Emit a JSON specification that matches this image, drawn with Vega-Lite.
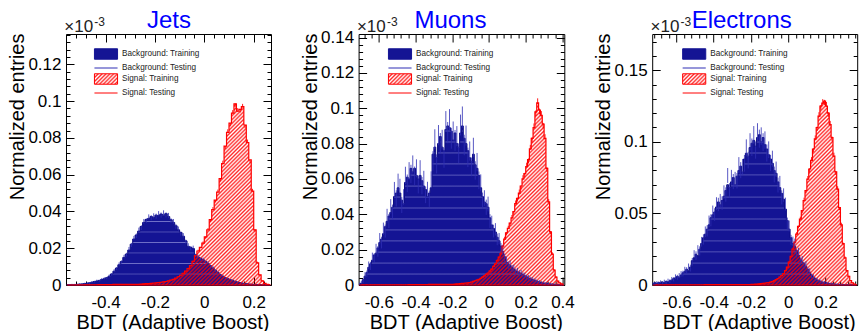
{
  "$schema": "https://vega.github.io/schema/vega-lite/v6.json",
  "background": "#ffffff",
  "padding": {"left": 7, "top": 8, "right": 0, "bottom": 0},
  "bounds": "flush",
  "spacing": 87.6,
  "resolve": {"scale": {"color": "independent"}, "legend": {"color": "independent"}},
  "config": {
    "font": "Liberation Sans",
    "view": {"stroke": "#000000", "strokeWidth": 1},
    "axis": {"grid": false, "domain": false, "minExtent": 0, "tickColor": "#000000", "tickWidth": 1, "labelColor": "#000000", "labelFont": "Liberation Sans", "labelFontSize": 17, "labelFlush": false, "labelOverlap": false, "titleFont": "Liberation Sans", "titleFontSize": 20, "titleFontWeight": "normal", "titleColor": "#000000", "zindex": 1},
    "legend": {"padding": 0}
  },
  "datasets": {
    "jets": [
      {"bdt":-0.555,"bkg":0.0002,"bkgT":0.0003,"bkgE":0.0002,"sig":0,"sigT":0.0001,"sigE":0.0001},
      {"bdt":-0.545,"bkg":0.0002,"bkgT":0.0002,"bkgE":0.0002,"sig":0,"sigT":0,"sigE":0.0001},
      {"bdt":-0.535,"bkg":0.0003,"bkgT":0.0002,"bkgE":0.0002,"sig":0.0001,"sigT":0,"sigE":0.0001},
      {"bdt":-0.525,"bkg":0.0002,"bkgT":0.0004,"bkgE":0.0002,"sig":0,"sigT":0.0001,"sigE":0.0001},
      {"bdt":-0.515,"bkg":0.0004,"bkgT":0.0003,"bkgE":0.0002,"sig":0.0001,"sigT":0,"sigE":0.0001},
      {"bdt":-0.505,"bkg":0.0005,"bkgT":0.0006,"bkgE":0.0003,"sig":0.0001,"sigT":0.0001,"sigE":0.0001},
      {"bdt":-0.495,"bkg":0.0006,"bkgT":0.0005,"bkgE":0.0003,"sig":0.0001,"sigT":0.0001,"sigE":0.0001},
      {"bdt":-0.485,"bkg":0.0008,"bkgT":0.0009,"bkgE":0.0003,"sig":0.0001,"sigT":0.0001,"sigE":0.0001},
      {"bdt":-0.475,"bkg":0.0010,"bkgT":0.0011,"bkgE":0.0004,"sig":0.0001,"sigT":0.0001,"sigE":0.0001},
      {"bdt":-0.465,"bkg":0.0012,"bkgT":0.0010,"bkgE":0.0004,"sig":0.0001,"sigT":0.0002,"sigE":0.0001},
      {"bdt":-0.455,"bkg":0.0015,"bkgT":0.0017,"bkgE":0.0004,"sig":0.0001,"sigT":0.0001,"sigE":0.0001},
      {"bdt":-0.445,"bkg":0.0019,"bkgT":0.0018,"bkgE":0.0005,"sig":0.0001,"sigT":0.0001,"sigE":0.0001},
      {"bdt":-0.435,"bkg":0.0022,"bkgT":0.0024,"bkgE":0.0005,"sig":0.0001,"sigT":0.0002,"sigE":0.0001},
      {"bdt":-0.425,"bkg":0.0025,"bkgT":0.0023,"bkgE":0.0005,"sig":0.0002,"sigT":0.0001,"sigE":0.0001},
      {"bdt":-0.415,"bkg":0.0030,"bkgT":0.0032,"bkgE":0.0006,"sig":0.0002,"sigT":0.0002,"sigE":0.0001},
      {"bdt":-0.405,"bkg":0.0034,"bkgT":0.0036,"bkgE":0.0006,"sig":0.0002,"sigT":0.0002,"sigE":0.0001},
      {"bdt":-0.395,"bkg":0.0040,"bkgT":0.0038,"bkgE":0.0006,"sig":0.0002,"sigT":0.0003,"sigE":0.0001},
      {"bdt":-0.385,"bkg":0.0048,"bkgT":0.0050,"bkgE":0.0007,"sig":0.0002,"sigT":0.0002,"sigE":0.0001},
      {"bdt":-0.375,"bkg":0.0060,"bkgT":0.0058,"bkgE":0.0007,"sig":0.0002,"sigT":0.0002,"sigE":0.0001},
      {"bdt":-0.365,"bkg":0.0075,"bkgT":0.0078,"bkgE":0.0008,"sig":0.0003,"sigT":0.0003,"sigE":0.0001},
      {"bdt":-0.355,"bkg":0.0092,"bkgT":0.0090,"bkgE":0.0008,"sig":0.0003,"sigT":0.0003,"sigE":0.0001},
      {"bdt":-0.345,"bkg":0.0110,"bkgT":0.0114,"bkgE":0.0009,"sig":0.0003,"sigT":0.0004,"sigE":0.0001},
      {"bdt":-0.335,"bkg":0.0128,"bkgT":0.0125,"bkgE":0.0009,"sig":0.0003,"sigT":0.0003,"sigE":0.0001},
      {"bdt":-0.325,"bkg":0.0150,"bkgT":0.0154,"bkgE":0.0010,"sig":0.0003,"sigT":0.0003,"sigE":0.0001},
      {"bdt":-0.315,"bkg":0.0168,"bkgT":0.0165,"bkgE":0.0010,"sig":0.0003,"sigT":0.0004,"sigE":0.0001},
      {"bdt":-0.305,"bkg":0.0190,"bkgT":0.0196,"bkgE":0.0011,"sig":0.0003,"sigT":0.0003,"sigE":0.0001},
      {"bdt":-0.295,"bkg":0.0222,"bkgT":0.0218,"bkgE":0.0011,"sig":0.0003,"sigT":0.0003,"sigE":0.0001},
      {"bdt":-0.285,"bkg":0.0250,"bkgT":0.0255,"bkgE":0.0012,"sig":0.0003,"sigT":0.0004,"sigE":0.0001},
      {"bdt":-0.275,"bkg":0.0272,"bkgT":0.0268,"bkgE":0.0012,"sig":0.0004,"sigT":0.0004,"sigE":0.0001},
      {"bdt":-0.265,"bkg":0.0293,"bkgT":0.0300,"bkgE":0.0012,"sig":0.0004,"sigT":0.0005,"sigE":0.0001},
      {"bdt":-0.255,"bkg":0.0318,"bkgT":0.0312,"bkgE":0.0013,"sig":0.0005,"sigT":0.0005,"sigE":0.0001},
      {"bdt":-0.245,"bkg":0.0340,"bkgT":0.0346,"bkgE":0.0013,"sig":0.0006,"sigT":0.0006,"sigE":0.0001},
      {"bdt":-0.235,"bkg":0.0356,"bkgT":0.0350,"bkgE":0.0013,"sig":0.0007,"sigT":0.0007,"sigE":0.0001},
      {"bdt":-0.225,"bkg":0.0362,"bkgT":0.0371,"bkgE":0.0013,"sig":0.0008,"sigT":0.0008,"sigE":0.0001},
      {"bdt":-0.215,"bkg":0.0372,"bkgT":0.0366,"bkgE":0.0014,"sig":0.0009,"sigT":0.0010,"sigE":0.0001},
      {"bdt":-0.205,"bkg":0.0368,"bkgT":0.0376,"bkgE":0.0014,"sig":0.0010,"sigT":0.0010,"sigE":0.0001},
      {"bdt":-0.195,"bkg":0.0380,"bkgT":0.0374,"bkgE":0.0014,"sig":0.0012,"sigT":0.0012,"sigE":0.0002},
      {"bdt":-0.185,"bkg":0.0378,"bkgT":0.0388,"bkgE":0.0014,"sig":0.0013,"sigT":0.0014,"sigE":0.0002},
      {"bdt":-0.175,"bkg":0.0386,"bkgT":0.0380,"bkgE":0.0014,"sig":0.0015,"sigT":0.0015,"sigE":0.0002},
      {"bdt":-0.165,"bkg":0.0380,"bkgT":0.0392,"bkgE":0.0014,"sig":0.0017,"sigT":0.0018,"sigE":0.0002},
      {"bdt":-0.155,"bkg":0.0388,"bkgT":0.0381,"bkgE":0.0014,"sig":0.0019,"sigT":0.0019,"sigE":0.0002},
      {"bdt":-0.145,"bkg":0.0372,"bkgT":0.0378,"bkgE":0.0014,"sig":0.0022,"sigT":0.0023,"sigE":0.0002},
      {"bdt":-0.135,"bkg":0.0355,"bkgT":0.0350,"bkgE":0.0013,"sig":0.0026,"sigT":0.0026,"sigE":0.0002},
      {"bdt":-0.125,"bkg":0.0340,"bkgT":0.0346,"bkgE":0.0013,"sig":0.0031,"sigT":0.0032,"sigE":0.0002},
      {"bdt":-0.115,"bkg":0.0322,"bkgT":0.0318,"bkgE":0.0013,"sig":0.0037,"sigT":0.0036,"sigE":0.0002},
      {"bdt":-0.105,"bkg":0.0300,"bkgT":0.0306,"bkgE":0.0012,"sig":0.0045,"sigT":0.0046,"sigE":0.0003},
      {"bdt":-0.095,"bkg":0.0285,"bkgT":0.0280,"bkgE":0.0012,"sig":0.0053,"sigT":0.0052,"sigE":0.0003},
      {"bdt":-0.085,"bkg":0.0265,"bkgT":0.0270,"bkgE":0.0012,"sig":0.0063,"sigT":0.0064,"sigE":0.0003},
      {"bdt":-0.075,"bkg":0.0240,"bkgT":0.0236,"bkgE":0.0011,"sig":0.0075,"sigT":0.0074,"sigE":0.0003},
      {"bdt":-0.065,"bkg":0.0210,"bkgT":0.0216,"bkgE":0.0011,"sig":0.0089,"sigT":0.0091,"sigE":0.0003},
      {"bdt":-0.055,"bkg":0.0205,"bkgT":0.0200,"bkgE":0.0011,"sig":0.0105,"sigT":0.0103,"sigE":0.0003},
      {"bdt":-0.045,"bkg":0.0198,"bkgT":0.0204,"bkgE":0.0010,"sig":0.0128,"sigT":0.0130,"sigE":0.0004},
      {"bdt":-0.035,"bkg":0.0165,"bkgT":0.0160,"bkgE":0.0010,"sig":0.0160,"sigT":0.0158,"sigE":0.0004},
      {"bdt":-0.025,"bkg":0.0152,"bkgT":0.0156,"bkgE":0.0009,"sig":0.0185,"sigT":0.0188,"sigE":0.0004},
      {"bdt":-0.015,"bkg":0.0145,"bkgT":0.0141,"bkgE":0.0009,"sig":0.0205,"sigT":0.0203,"sigE":0.0004},
      {"bdt":-0.005,"bkg":0.0138,"bkgT":0.0140,"bkgE":0.0009,"sig":0.0228,"sigT":0.0232,"sigE":0.0005},
      {"bdt":0.005,"bkg":0.0128,"bkgT":0.0125,"bkgE":0.0008,"sig":0.0262,"sigT":0.0258,"sigE":0.0005},
      {"bdt":0.015,"bkg":0.0118,"bkgT":0.0121,"bkgE":0.0008,"sig":0.0300,"sigT":0.0305,"sigE":0.0005},
      {"bdt":0.025,"bkg":0.0105,"bkgT":0.0102,"bkgE":0.0008,"sig":0.0355,"sigT":0.0350,"sigE":0.0006},
      {"bdt":0.035,"bkg":0.0093,"bkgT":0.0096,"bkgE":0.0007,"sig":0.0410,"sigT":0.0418,"sigE":0.0006},
      {"bdt":0.045,"bkg":0.0080,"bkgT":0.0078,"bkgE":0.0007,"sig":0.0462,"sigT":0.0455,"sigE":0.0006},
      {"bdt":0.055,"bkg":0.0068,"bkgT":0.0070,"bkgE":0.0006,"sig":0.0505,"sigT":0.0512,"sigE":0.0007},
      {"bdt":0.065,"bkg":0.0056,"bkgT":0.0054,"bkgE":0.0006,"sig":0.0578,"sigT":0.0570,"sigE":0.0007},
      {"bdt":0.075,"bkg":0.0048,"bkgT":0.0050,"bkgE":0.0005,"sig":0.0660,"sigT":0.0668,"sigE":0.0008},
      {"bdt":0.085,"bkg":0.0040,"bkgT":0.0038,"bkgE":0.0005,"sig":0.0755,"sigT":0.0748,"sigE":0.0008},
      {"bdt":0.095,"bkg":0.0034,"bkgT":0.0035,"bkgE":0.0005,"sig":0.0830,"sigT":0.0838,"sigE":0.0009},
      {"bdt":0.105,"bkg":0.0029,"bkgT":0.0028,"bkgE":0.0004,"sig":0.0880,"sigT":0.0872,"sigE":0.0009},
      {"bdt":0.115,"bkg":0.0025,"bkgT":0.0026,"bkgE":0.0004,"sig":0.0935,"sigT":0.0942,"sigE":0.0009},
      {"bdt":0.125,"bkg":0.0020,"bkgT":0.0019,"bkgE":0.0004,"sig":0.0985,"sigT":0.0978,"sigE":0.0010},
      {"bdt":0.135,"bkg":0.0016,"bkgT":0.0017,"bkgE":0.0003,"sig":0.0945,"sigT":0.0952,"sigE":0.0010},
      {"bdt":0.145,"bkg":0.0013,"bkgT":0.0012,"bkgE":0.0003,"sig":0.0955,"sigT":0.0948,"sigE":0.0010},
      {"bdt":0.155,"bkg":0.0010,"bkgT":0.0011,"bkgE":0.0003,"sig":0.0970,"sigT":0.0975,"sigE":0.0010},
      {"bdt":0.165,"bkg":0.0008,"bkgT":0.0007,"bkgE":0.0003,"sig":0.0870,"sigT":0.0862,"sigE":0.0009},
      {"bdt":0.175,"bkg":0.0007,"bkgT":0.0008,"bkgE":0.0002,"sig":0.0775,"sigT":0.0782,"sigE":0.0009},
      {"bdt":0.185,"bkg":0.0005,"bkgT":0.0005,"bkgE":0.0002,"sig":0.0680,"sigT":0.0672,"sigE":0.0008},
      {"bdt":0.195,"bkg":0.0004,"bkgT":0.0004,"bkgE":0.0002,"sig":0.0510,"sigT":0.0516,"sigE":0.0007},
      {"bdt":0.205,"bkg":0.0003,"bkgT":0.0003,"bkgE":0.0002,"sig":0.0300,"sigT":0.0296,"sigE":0.0006},
      {"bdt":0.215,"bkg":0.0003,"bkgT":0.0002,"bkgE":0.0002,"sig":0.0120,"sigT":0.0123,"sigE":0.0004},
      {"bdt":0.225,"bkg":0.0002,"bkgT":0.0002,"bkgE":0.0001,"sig":0.0055,"sigT":0.0054,"sigE":0.0003},
      {"bdt":0.235,"bkg":0.0002,"bkgT":0.0001,"bkgE":0.0001,"sig":0.0022,"sigT":0.0023,"sigE":0.0002},
      {"bdt":0.245,"bkg":0.0001,"bkgT":0.0001,"bkgE":0.0001,"sig":0.0009,"sigT":0.0009,"sigE":0.0001},
      {"bdt":0.255,"bkg":0.0001,"bkgT":0.0001,"bkgE":0.0001,"sig":0.0004,"sigT":0.0004,"sigE":0.0001},
      {"bdt":0.265,"bkg":0.0001,"bkgT":0,"bkgE":0.0001,"sig":0.0002,"sigT":0.0002,"sigE":0.0001}
    ],
    "muons": [
      {"bdt":-0.705,"bkg":0.0005,"bkgT":0.0008,"bkgE":0.0005,"sig":0,"sigT":0,"sigE":0.0001},
      {"bdt":-0.695,"bkg":0.001,"bkgT":0.0015,"bkgE":0.0008,"sig":0,"sigT":0.0001,"sigE":0.0001},
      {"bdt":-0.685,"bkg":0.003,"bkgT":0.0024,"bkgE":0.0012,"sig":0.0001,"sigT":0,"sigE":0.0001},
      {"bdt":-0.675,"bkg":0.005,"bkgT":0.0058,"bkgE":0.0015,"sig":0,"sigT":0.0001,"sigE":0.0001},
      {"bdt":-0.665,"bkg":0.007,"bkgT":0.0064,"bkgE":0.0018,"sig":0.0001,"sigT":0.0001,"sigE":0.0001},
      {"bdt":-0.655,"bkg":0.010,"bkgT":0.0112,"bkgE":0.0021,"sig":0,"sigT":0,"sigE":0.0001},
      {"bdt":-0.645,"bkg":0.012,"bkgT":0.0108,"bkgE":0.0023,"sig":0.0001,"sigT":0.0001,"sigE":0.0001},
      {"bdt":-0.635,"bkg":0.014,"bkgT":0.0158,"bkgE":0.0025,"sig":0.0001,"sigT":0.0001,"sigE":0.0001},
      {"bdt":-0.625,"bkg":0.017,"bkgT":0.0152,"bkgE":0.0027,"sig":0.0001,"sigT":0.0002,"sigE":0.0001},
      {"bdt":-0.615,"bkg":0.018,"bkgT":0.0205,"bkgE":0.0028,"sig":0.0001,"sigT":0.0001,"sigE":0.0001},
      {"bdt":-0.605,"bkg":0.021,"bkgT":0.0190,"bkgE":0.0030,"sig":0.0001,"sigT":0.0001,"sigE":0.0001},
      {"bdt":-0.595,"bkg":0.024,"bkgT":0.0262,"bkgE":0.0032,"sig":0.0001,"sigT":0.0001,"sigE":0.0001},
      {"bdt":-0.585,"bkg":0.026,"bkgT":0.0240,"bkgE":0.0033,"sig":0.0001,"sigT":0.0002,"sigE":0.0001},
      {"bdt":-0.575,"bkg":0.029,"bkgT":0.0318,"bkgE":0.0035,"sig":0.0001,"sigT":0.0001,"sigE":0.0001},
      {"bdt":-0.565,"bkg":0.033,"bkgT":0.0305,"bkgE":0.0037,"sig":0.0001,"sigT":0.0001,"sigE":0.0001},
      {"bdt":-0.555,"bkg":0.036,"bkgT":0.0392,"bkgE":0.0039,"sig":0.0001,"sigT":0.0001,"sigE":0.0001},
      {"bdt":-0.545,"bkg":0.039,"bkgT":0.0362,"bkgE":0.0040,"sig":0.0001,"sigT":0.0002,"sigE":0.0001},
      {"bdt":-0.535,"bkg":0.041,"bkgT":0.0445,"bkgE":0.0041,"sig":0.0001,"sigT":0.0001,"sigE":0.0001},
      {"bdt":-0.525,"bkg":0.044,"bkgT":0.0412,"bkgE":0.0043,"sig":0.0001,"sigT":0.0001,"sigE":0.0001},
      {"bdt":-0.515,"bkg":0.050,"bkgT":0.0538,"bkgE":0.0045,"sig":0.0001,"sigT":0.0001,"sigE":0.0001},
      {"bdt":-0.505,"bkg":0.052,"bkgT":0.0490,"bkgE":0.0046,"sig":0.0001,"sigT":0.0002,"sigE":0.0001},
      {"bdt":-0.495,"bkg":0.055,"bkgT":0.0582,"bkgE":0.0048,"sig":0.0001,"sigT":0.0001,"sigE":0.0001},
      {"bdt":-0.485,"bkg":0.052,"bkgT":0.0555,"bkgE":0.0046,"sig":0.0001,"sigT":0.0001,"sigE":0.0001},
      {"bdt":-0.475,"bkg":0.048,"bkgT":0.0452,"bkgE":0.0045,"sig":0.0001,"sigT":0.0001,"sigE":0.0001},
      {"bdt":-0.465,"bkg":0.046,"bkgT":0.0498,"bkgE":0.0044,"sig":0.0001,"sigT":0.0002,"sigE":0.0001},
      {"bdt":-0.455,"bkg":0.058,"bkgT":0.0620,"bkgE":0.0049,"sig":0.0001,"sigT":0.0001,"sigE":0.0001},
      {"bdt":-0.445,"bkg":0.061,"bkgT":0.0575,"bkgE":0.0050,"sig":0.0001,"sigT":0.0001,"sigE":0.0001},
      {"bdt":-0.435,"bkg":0.060,"bkgT":0.0645,"bkgE":0.0050,"sig":0.0002,"sigT":0.0002,"sigE":0.0001},
      {"bdt":-0.425,"bkg":0.066,"bkgT":0.0628,"bkgE":0.0052,"sig":0.0002,"sigT":0.0001,"sigE":0.0001},
      {"bdt":-0.415,"bkg":0.064,"bkgT":0.0682,"bkgE":0.0051,"sig":0.0002,"sigT":0.0002,"sigE":0.0001},
      {"bdt":-0.405,"bkg":0.066,"bkgT":0.0618,"bkgE":0.0052,"sig":0.0002,"sigT":0.0002,"sigE":0.0001},
      {"bdt":-0.395,"bkg":0.062,"bkgT":0.0660,"bkgE":0.0051,"sig":0.0002,"sigT":0.0002,"sigE":0.0001},
      {"bdt":-0.385,"bkg":0.060,"bkgT":0.0568,"bkgE":0.0050,"sig":0.0002,"sigT":0.0003,"sigE":0.0001},
      {"bdt":-0.375,"bkg":0.062,"bkgT":0.0655,"bkgE":0.0051,"sig":0.0002,"sigT":0.0002,"sigE":0.0001},
      {"bdt":-0.365,"bkg":0.059,"bkgT":0.0562,"bkgE":0.0049,"sig":0.0002,"sigT":0.0002,"sigE":0.0001},
      {"bdt":-0.355,"bkg":0.056,"bkgT":0.0598,"bkgE":0.0048,"sig":0.0002,"sigT":0.0003,"sigE":0.0001},
      {"bdt":-0.345,"bkg":0.054,"bkgT":0.0510,"bkgE":0.0047,"sig":0.0002,"sigT":0.0002,"sigE":0.0001},
      {"bdt":-0.335,"bkg":0.050,"bkgT":0.0538,"bkgE":0.0046,"sig":0.0002,"sigT":0.0002,"sigE":0.0001},
      {"bdt":-0.325,"bkg":0.052,"bkgT":0.0488,"bkgE":0.0046,"sig":0.0003,"sigT":0.0003,"sigE":0.0001},
      {"bdt":-0.315,"bkg":0.055,"bkgT":0.0595,"bkgE":0.0048,"sig":0.0003,"sigT":0.0002,"sigE":0.0001},
      {"bdt":-0.305,"bkg":0.074,"bkgT":0.0702,"bkgE":0.0055,"sig":0.0003,"sigT":0.0003,"sigE":0.0001},
      {"bdt":-0.295,"bkg":0.078,"bkgT":0.0825,"bkgE":0.0056,"sig":0.0003,"sigT":0.0003,"sigE":0.0001},
      {"bdt":-0.285,"bkg":0.072,"bkgT":0.0685,"bkgE":0.0054,"sig":0.0003,"sigT":0.0004,"sigE":0.0001},
      {"bdt":-0.275,"bkg":0.080,"bkgT":0.0848,"bkgE":0.0057,"sig":0.0003,"sigT":0.0003,"sigE":0.0001},
      {"bdt":-0.265,"bkg":0.084,"bkgT":0.0802,"bkgE":0.0058,"sig":0.0003,"sigT":0.0003,"sigE":0.0001},
      {"bdt":-0.255,"bkg":0.078,"bkgT":0.0822,"bkgE":0.0056,"sig":0.0003,"sigT":0.0004,"sigE":0.0001},
      {"bdt":-0.245,"bkg":0.076,"bkgT":0.0718,"bkgE":0.0055,"sig":0.0003,"sigT":0.0003,"sigE":0.0001},
      {"bdt":-0.235,"bkg":0.088,"bkgT":0.0925,"bkgE":0.0059,"sig":0.0003,"sigT":0.0003,"sigE":0.0001},
      {"bdt":-0.225,"bkg":0.090,"bkgT":0.0862,"bkgE":0.0060,"sig":0.0003,"sigT":0.0004,"sigE":0.0001},
      {"bdt":-0.215,"bkg":0.089,"bkgT":0.0935,"bkgE":0.0060,"sig":0.0003,"sigT":0.0003,"sigE":0.0001},
      {"bdt":-0.205,"bkg":0.087,"bkgT":0.0830,"bkgE":0.0059,"sig":0.0003,"sigT":0.0003,"sigE":0.0001},
      {"bdt":-0.195,"bkg":0.082,"bkgT":0.0868,"bkgE":0.0057,"sig":0.0004,"sigT":0.0004,"sigE":0.0001},
      {"bdt":-0.185,"bkg":0.086,"bkgT":0.0818,"bkgE":0.0059,"sig":0.0005,"sigT":0.0005,"sigE":0.0001},
      {"bdt":-0.175,"bkg":0.080,"bkgT":0.0842,"bkgE":0.0057,"sig":0.0006,"sigT":0.0006,"sigE":0.0001},
      {"bdt":-0.165,"bkg":0.078,"bkgT":0.0745,"bkgE":0.0056,"sig":0.0007,"sigT":0.0008,"sigE":0.0001},
      {"bdt":-0.155,"bkg":0.086,"bkgT":0.0905,"bkgE":0.0059,"sig":0.0008,"sigT":0.0008,"sigE":0.0002},
      {"bdt":-0.145,"bkg":0.090,"bkgT":0.0950,"bkgE":0.0060,"sig":0.0009,"sigT":0.0009,"sigE":0.0002},
      {"bdt":-0.135,"bkg":0.083,"bkgT":0.0792,"bkgE":0.0058,"sig":0.0010,"sigT":0.0011,"sigE":0.0002},
      {"bdt":-0.125,"bkg":0.080,"bkgT":0.0845,"bkgE":0.0057,"sig":0.0011,"sigT":0.0011,"sigE":0.0002},
      {"bdt":-0.115,"bkg":0.076,"bkgT":0.0722,"bkgE":0.0055,"sig":0.0012,"sigT":0.0013,"sigE":0.0002},
      {"bdt":-0.105,"bkg":0.072,"bkgT":0.0758,"bkgE":0.0054,"sig":0.0014,"sigT":0.0014,"sigE":0.0002},
      {"bdt":-0.095,"bkg":0.070,"bkgT":0.0668,"bkgE":0.0053,"sig":0.0017,"sigT":0.0016,"sigE":0.0002},
      {"bdt":-0.085,"bkg":0.074,"bkgT":0.0778,"bkgE":0.0055,"sig":0.0020,"sigT":0.0021,"sigE":0.0002},
      {"bdt":-0.075,"bkg":0.068,"bkgT":0.0648,"bkgE":0.0052,"sig":0.0024,"sigT":0.0024,"sigE":0.0003},
      {"bdt":-0.065,"bkg":0.066,"bkgT":0.0695,"bkgE":0.0052,"sig":0.0028,"sigT":0.0029,"sigE":0.0003},
      {"bdt":-0.055,"bkg":0.062,"bkgT":0.0592,"bkgE":0.0050,"sig":0.0032,"sigT":0.0031,"sigE":0.0003},
      {"bdt":-0.045,"bkg":0.055,"bkgT":0.0578,"bkgE":0.0048,"sig":0.0038,"sigT":0.0039,"sigE":0.0003},
      {"bdt":-0.035,"bkg":0.050,"bkgT":0.0478,"bkgE":0.0045,"sig":0.0045,"sigT":0.0046,"sigE":0.0004},
      {"bdt":-0.025,"bkg":0.047,"bkgT":0.0492,"bkgE":0.0044,"sig":0.0052,"sigT":0.0051,"sigE":0.0004},
      {"bdt":-0.015,"bkg":0.046,"bkgT":0.0440,"bkgE":0.0043,"sig":0.0060,"sigT":0.0062,"sigE":0.0004},
      {"bdt":-0.005,"bkg":0.044,"bkgT":0.0458,"bkgE":0.0042,"sig":0.0068,"sigT":0.0067,"sigE":0.0004},
      {"bdt":0.005,"bkg":0.038,"bkgT":0.0362,"bkgE":0.0039,"sig":0.0078,"sigT":0.0080,"sigE":0.0005},
      {"bdt":0.015,"bkg":0.034,"bkgT":0.0355,"bkgE":0.0037,"sig":0.0090,"sigT":0.0089,"sigE":0.0005},
      {"bdt":0.025,"bkg":0.032,"bkgT":0.0305,"bkgE":0.0036,"sig":0.0105,"sigT":0.0107,"sigE":0.0005},
      {"bdt":0.035,"bkg":0.030,"bkgT":0.0315,"bkgE":0.0035,"sig":0.0120,"sigT":0.0118,"sigE":0.0006},
      {"bdt":0.045,"bkg":0.027,"bkgT":0.0258,"bkgE":0.0033,"sig":0.0138,"sigT":0.0141,"sigE":0.0006},
      {"bdt":0.055,"bkg":0.025,"bkgT":0.0262,"bkgE":0.0032,"sig":0.0158,"sigT":0.0155,"sigE":0.0007},
      {"bdt":0.065,"bkg":0.022,"bkgT":0.0208,"bkgE":0.0030,"sig":0.0178,"sigT":0.0182,"sigE":0.0007},
      {"bdt":0.075,"bkg":0.019,"bkgT":0.0200,"bkgE":0.0028,"sig":0.0220,"sigT":0.0216,"sigE":0.0008},
      {"bdt":0.085,"bkg":0.016,"bkgT":0.0152,"bkgE":0.0025,"sig":0.0260,"sigT":0.0265,"sigE":0.0008},
      {"bdt":0.095,"bkg":0.013,"bkgT":0.0138,"bkgE":0.0023,"sig":0.0295,"sigT":0.0290,"sigE":0.0009},
      {"bdt":0.105,"bkg":0.012,"bkgT":0.0112,"bkgE":0.0022,"sig":0.0320,"sigT":0.0326,"sigE":0.0009},
      {"bdt":0.115,"bkg":0.011,"bkgT":0.0118,"bkgE":0.0021,"sig":0.0350,"sigT":0.0344,"sigE":0.0010},
      {"bdt":0.125,"bkg":0.010,"bkgT":0.0094,"bkgE":0.0020,"sig":0.0380,"sigT":0.0386,"sigE":0.0010},
      {"bdt":0.135,"bkg":0.009,"bkgT":0.0096,"bkgE":0.0019,"sig":0.0415,"sigT":0.0408,"sigE":0.0011},
      {"bdt":0.145,"bkg":0.008,"bkgT":0.0076,"bkgE":0.0018,"sig":0.0460,"sigT":0.0467,"sigE":0.0011},
      {"bdt":0.155,"bkg":0.0075,"bkgT":0.0080,"bkgE":0.0017,"sig":0.0490,"sigT":0.0483,"sigE":0.0011},
      {"bdt":0.165,"bkg":0.007,"bkgT":0.0066,"bkgE":0.0017,"sig":0.0520,"sigT":0.0528,"sigE":0.0012},
      {"bdt":0.175,"bkg":0.0065,"bkgT":0.0069,"bkgE":0.0016,"sig":0.0560,"sigT":0.0552,"sigE":0.0012},
      {"bdt":0.185,"bkg":0.006,"bkgT":0.0057,"bkgE":0.0015,"sig":0.0600,"sigT":0.0608,"sigE":0.0013},
      {"bdt":0.195,"bkg":0.0052,"bkgT":0.0055,"bkgE":0.0014,"sig":0.0630,"sigT":0.0622,"sigE":0.0013},
      {"bdt":0.205,"bkg":0.0047,"bkgT":0.0044,"bkgE":0.0014,"sig":0.0670,"sigT":0.0679,"sigE":0.0013},
      {"bdt":0.215,"bkg":0.004,"bkgT":0.0043,"bkgE":0.0013,"sig":0.0710,"sigT":0.0702,"sigE":0.0014},
      {"bdt":0.225,"bkg":0.0036,"bkgT":0.0034,"bkgE":0.0012,"sig":0.0770,"sigT":0.0779,"sigE":0.0014},
      {"bdt":0.235,"bkg":0.0032,"bkgT":0.0034,"bkgE":0.0011,"sig":0.0830,"sigT":0.0821,"sigE":0.0015},
      {"bdt":0.245,"bkg":0.0028,"bkgT":0.0026,"bkgE":0.0011,"sig":0.0890,"sigT":0.0899,"sigE":0.0015},
      {"bdt":0.255,"bkg":0.0024,"bkgT":0.0025,"bkgE":0.0010,"sig":0.0980,"sigT":0.0972,"sigE":0.0016},
      {"bdt":0.265,"bkg":0.002,"bkgT":0.0019,"bkgE":0.0009,"sig":0.1030,"sigT":0.1040,"sigE":0.0016},
      {"bdt":0.275,"bkg":0.0017,"bkgT":0.0018,"bkgE":0.0009,"sig":0.0990,"sigT":0.0982,"sigE":0.0016},
      {"bdt":0.285,"bkg":0.0014,"bkgT":0.0013,"bkgE":0.0008,"sig":0.0960,"sigT":0.0968,"sigE":0.0016},
      {"bdt":0.295,"bkg":0.0012,"bkgT":0.0013,"bkgE":0.0007,"sig":0.0910,"sigT":0.0902,"sigE":0.0015},
      {"bdt":0.305,"bkg":0.001,"bkgT":0.0009,"bkgE":0.0007,"sig":0.0830,"sigT":0.0838,"sigE":0.0015},
      {"bdt":0.315,"bkg":0.0009,"bkgT":0.0010,"bkgE":0.0006,"sig":0.0660,"sigT":0.0654,"sigE":0.0013},
      {"bdt":0.325,"bkg":0.0007,"bkgT":0.0007,"bkgE":0.0006,"sig":0.0470,"sigT":0.0476,"sigE":0.0011},
      {"bdt":0.335,"bkg":0.0006,"bkgT":0.0005,"bkgE":0.0005,"sig":0.0300,"sigT":0.0296,"sigE":0.0009},
      {"bdt":0.345,"bkg":0.0005,"bkgT":0.0005,"bkgE":0.0005,"sig":0.0175,"sigT":0.0178,"sigE":0.0007},
      {"bdt":0.355,"bkg":0.0004,"bkgT":0.0004,"bkgE":0.0004,"sig":0.0085,"sigT":0.0084,"sigE":0.0005},
      {"bdt":0.365,"bkg":0.0003,"bkgT":0.0003,"bkgE":0.0004,"sig":0.0045,"sigT":0.0046,"sigE":0.0004},
      {"bdt":0.375,"bkg":0.0002,"bkgT":0.0002,"bkgE":0.0003,"sig":0.0022,"sigT":0.0022,"sigE":0.0003},
      {"bdt":0.385,"bkg":0.0002,"bkgT":0.0001,"bkgE":0.0003,"sig":0.0012,"sigT":0.0012,"sigE":0.0002},
      {"bdt":0.395,"bkg":0.0001,"bkgT":0.0001,"bkgE":0.0002,"sig":0.0006,"sigT":0.0006,"sigE":0.0002},
      {"bdt":0.405,"bkg":0.0001,"bkgT":0.0001,"bkgE":0.0002,"sig":0.0003,"sigT":0.0003,"sigE":0.0001}
    ],
    "electrons": [
      {"bdt":-0.725,"bkg":0.0010,"bkgT":0.0012,"bkgE":0.0008,"sig":0,"sigT":0,"sigE":0.0001},
      {"bdt":-0.715,"bkg":0.0015,"bkgT":0.0011,"bkgE":0.0009,"sig":0,"sigT":0.0001,"sigE":0.0001},
      {"bdt":-0.705,"bkg":0.0012,"bkgT":0.0018,"bkgE":0.0009,"sig":0.0001,"sigT":0,"sigE":0.0001},
      {"bdt":-0.695,"bkg":0.0018,"bkgT":0.0014,"bkgE":0.0010,"sig":0,"sigT":0,"sigE":0.0001},
      {"bdt":-0.685,"bkg":0.0015,"bkgT":0.0022,"bkgE":0.0010,"sig":0.0001,"sigT":0.0001,"sigE":0.0001},
      {"bdt":-0.675,"bkg":0.0020,"bkgT":0.0016,"bkgE":0.0011,"sig":0,"sigT":0.0001,"sigE":0.0001},
      {"bdt":-0.665,"bkg":0.0018,"bkgT":0.0026,"bkgE":0.0011,"sig":0.0001,"sigT":0,"sigE":0.0001},
      {"bdt":-0.655,"bkg":0.0025,"bkgT":0.0020,"bkgE":0.0012,"sig":0.0001,"sigT":0.0001,"sigE":0.0001},
      {"bdt":-0.645,"bkg":0.0022,"bkgT":0.0032,"bkgE":0.0012,"sig":0.0001,"sigT":0.0001,"sigE":0.0001},
      {"bdt":-0.635,"bkg":0.0030,"bkgT":0.0027,"bkgE":0.0013,"sig":0.0001,"sigT":0.0001,"sigE":0.0001},
      {"bdt":-0.625,"bkg":0.0035,"bkgT":0.0042,"bkgE":0.0014,"sig":0.0001,"sigT":0.0001,"sigE":0.0001},
      {"bdt":-0.615,"bkg":0.0045,"bkgT":0.0040,"bkgE":0.0015,"sig":0.0001,"sigT":0.0001,"sigE":0.0001},
      {"bdt":-0.605,"bkg":0.0050,"bkgT":0.0058,"bkgE":0.0016,"sig":0.0001,"sigT":0.0001,"sigE":0.0001},
      {"bdt":-0.595,"bkg":0.0060,"bkgT":0.0054,"bkgE":0.0017,"sig":0.0001,"sigT":0.0001,"sigE":0.0001},
      {"bdt":-0.585,"bkg":0.0055,"bkgT":0.0066,"bkgE":0.0017,"sig":0.0001,"sigT":0.0001,"sigE":0.0001},
      {"bdt":-0.575,"bkg":0.0070,"bkgT":0.0078,"bkgE":0.0019,"sig":0.0001,"sigT":0.0001,"sigE":0.0001},
      {"bdt":-0.565,"bkg":0.0085,"bkgT":0.0080,"bkgE":0.0020,"sig":0.0001,"sigT":0.0002,"sigE":0.0001},
      {"bdt":-0.555,"bkg":0.0095,"bkgT":0.0106,"bkgE":0.0021,"sig":0.0001,"sigT":0.0001,"sigE":0.0001},
      {"bdt":-0.545,"bkg":0.0110,"bkgT":0.0102,"bkgE":0.0022,"sig":0.0001,"sigT":0.0001,"sigE":0.0001},
      {"bdt":-0.535,"bkg":0.0100,"bkgT":0.0128,"bkgE":0.0022,"sig":0.0001,"sigT":0.0001,"sigE":0.0001},
      {"bdt":-0.525,"bkg":0.0125,"bkgT":0.0118,"bkgE":0.0024,"sig":0.0001,"sigT":0.0002,"sigE":0.0001},
      {"bdt":-0.515,"bkg":0.0170,"bkgT":0.0162,"bkgE":0.0027,"sig":0.0001,"sigT":0.0001,"sigE":0.0001},
      {"bdt":-0.505,"bkg":0.0190,"bkgT":0.0215,"bkgE":0.0028,"sig":0.0001,"sigT":0.0001,"sigE":0.0001},
      {"bdt":-0.495,"bkg":0.0215,"bkgT":0.0205,"bkgE":0.0030,"sig":0.0001,"sigT":0.0001,"sigE":0.0001},
      {"bdt":-0.485,"bkg":0.0205,"bkgT":0.0248,"bkgE":0.0030,"sig":0.0001,"sigT":0.0002,"sigE":0.0001},
      {"bdt":-0.475,"bkg":0.0250,"bkgT":0.0238,"bkgE":0.0032,"sig":0.0001,"sigT":0.0001,"sigE":0.0001},
      {"bdt":-0.465,"bkg":0.0290,"bkgT":0.0302,"bkgE":0.0034,"sig":0.0001,"sigT":0.0001,"sigE":0.0001},
      {"bdt":-0.455,"bkg":0.0330,"bkgT":0.0318,"bkgE":0.0036,"sig":0.0001,"sigT":0.0002,"sigE":0.0001},
      {"bdt":-0.445,"bkg":0.0355,"bkgT":0.0372,"bkgE":0.0037,"sig":0.0002,"sigT":0.0001,"sigE":0.0001},
      {"bdt":-0.435,"bkg":0.0390,"bkgT":0.0378,"bkgE":0.0039,"sig":0.0002,"sigT":0.0002,"sigE":0.0001},
      {"bdt":-0.425,"bkg":0.0420,"bkgT":0.0445,"bkgE":0.0040,"sig":0.0002,"sigT":0.0002,"sigE":0.0001},
      {"bdt":-0.415,"bkg":0.0470,"bkgT":0.0452,"bkgE":0.0042,"sig":0.0002,"sigT":0.0002,"sigE":0.0001},
      {"bdt":-0.405,"bkg":0.0490,"bkgT":0.0512,"bkgE":0.0043,"sig":0.0002,"sigT":0.0003,"sigE":0.0001},
      {"bdt":-0.395,"bkg":0.0510,"bkgT":0.0492,"bkgE":0.0044,"sig":0.0002,"sigT":0.0002,"sigE":0.0001},
      {"bdt":-0.385,"bkg":0.0545,"bkgT":0.0568,"bkgE":0.0045,"sig":0.0002,"sigT":0.0002,"sigE":0.0001},
      {"bdt":-0.375,"bkg":0.0580,"bkgT":0.0562,"bkgE":0.0047,"sig":0.0002,"sigT":0.0003,"sigE":0.0001},
      {"bdt":-0.365,"bkg":0.0560,"bkgT":0.0590,"bkgE":0.0046,"sig":0.0002,"sigT":0.0002,"sigE":0.0001},
      {"bdt":-0.355,"bkg":0.0590,"bkgT":0.0572,"bkgE":0.0047,"sig":0.0002,"sigT":0.0002,"sigE":0.0001},
      {"bdt":-0.345,"bkg":0.0620,"bkgT":0.0648,"bkgE":0.0048,"sig":0.0002,"sigT":0.0003,"sigE":0.0001},
      {"bdt":-0.335,"bkg":0.0660,"bkgT":0.0632,"bkgE":0.0050,"sig":0.0002,"sigT":0.0002,"sigE":0.0001},
      {"bdt":-0.325,"bkg":0.0700,"bkgT":0.0765,"bkgE":0.0052,"sig":0.0003,"sigT":0.0003,"sigE":0.0001},
      {"bdt":-0.315,"bkg":0.0680,"bkgT":0.0660,"bkgE":0.0051,"sig":0.0003,"sigT":0.0003,"sigE":0.0001},
      {"bdt":-0.305,"bkg":0.0720,"bkgT":0.0752,"bkgE":0.0052,"sig":0.0003,"sigT":0.0003,"sigE":0.0001},
      {"bdt":-0.295,"bkg":0.0750,"bkgT":0.0722,"bkgE":0.0053,"sig":0.0003,"sigT":0.0004,"sigE":0.0001},
      {"bdt":-0.285,"bkg":0.0700,"bkgT":0.0738,"bkgE":0.0052,"sig":0.0003,"sigT":0.0003,"sigE":0.0001},
      {"bdt":-0.275,"bkg":0.0760,"bkgT":0.0728,"bkgE":0.0054,"sig":0.0003,"sigT":0.0003,"sigE":0.0001},
      {"bdt":-0.265,"bkg":0.0800,"bkgT":0.0838,"bkgE":0.0055,"sig":0.0003,"sigT":0.0004,"sigE":0.0001},
      {"bdt":-0.255,"bkg":0.0830,"bkgT":0.0802,"bkgE":0.0056,"sig":0.0003,"sigT":0.0003,"sigE":0.0001},
      {"bdt":-0.245,"bkg":0.0790,"bkgT":0.0825,"bkgE":0.0055,"sig":0.0003,"sigT":0.0003,"sigE":0.0001},
      {"bdt":-0.235,"bkg":0.0880,"bkgT":0.0850,"bkgE":0.0058,"sig":0.0003,"sigT":0.0004,"sigE":0.0001},
      {"bdt":-0.225,"bkg":0.0920,"bkgT":0.0958,"bkgE":0.0059,"sig":0.0003,"sigT":0.0003,"sigE":0.0001},
      {"bdt":-0.215,"bkg":0.0900,"bkgT":0.0872,"bkgE":0.0058,"sig":0.0003,"sigT":0.0003,"sigE":0.0001},
      {"bdt":-0.205,"bkg":0.0960,"bkgT":0.1000,"bkgE":0.0060,"sig":0.0003,"sigT":0.0004,"sigE":0.0001},
      {"bdt":-0.195,"bkg":0.0990,"bkgT":0.0962,"bkgE":0.0061,"sig":0.0004,"sigT":0.0004,"sigE":0.0001},
      {"bdt":-0.185,"bkg":0.1010,"bkgT":0.1048,"bkgE":0.0062,"sig":0.0005,"sigT":0.0005,"sigE":0.0001},
      {"bdt":-0.175,"bkg":0.0970,"bkgT":0.0942,"bkgE":0.0060,"sig":0.0006,"sigT":0.0006,"sigE":0.0001},
      {"bdt":-0.165,"bkg":0.1030,"bkgT":0.1068,"bkgE":0.0062,"sig":0.0007,"sigT":0.0007,"sigE":0.0002},
      {"bdt":-0.155,"bkg":0.1050,"bkgT":0.1022,"bkgE":0.0063,"sig":0.0008,"sigT":0.0008,"sigE":0.0002},
      {"bdt":-0.145,"bkg":0.1000,"bkgT":0.1040,"bkgE":0.0061,"sig":0.0009,"sigT":0.0010,"sigE":0.0002},
      {"bdt":-0.135,"bkg":0.1030,"bkgT":0.0998,"bkgE":0.0062,"sig":0.0011,"sigT":0.0011,"sigE":0.0002},
      {"bdt":-0.125,"bkg":0.0980,"bkgT":0.1012,"bkgE":0.0061,"sig":0.0013,"sigT":0.0012,"sigE":0.0002},
      {"bdt":-0.115,"bkg":0.0950,"bkgT":0.0922,"bkgE":0.0060,"sig":0.0015,"sigT":0.0016,"sigE":0.0002},
      {"bdt":-0.105,"bkg":0.0910,"bkgT":0.0945,"bkgE":0.0058,"sig":0.0017,"sigT":0.0017,"sigE":0.0002},
      {"bdt":-0.095,"bkg":0.0880,"bkgT":0.0852,"bkgE":0.0057,"sig":0.0020,"sigT":0.0021,"sigE":0.0002},
      {"bdt":-0.085,"bkg":0.0850,"bkgT":0.0882,"bkgE":0.0056,"sig":0.0024,"sigT":0.0024,"sigE":0.0003},
      {"bdt":-0.075,"bkg":0.0800,"bkgT":0.0772,"bkgE":0.0055,"sig":0.0030,"sigT":0.0029,"sigE":0.0003},
      {"bdt":-0.065,"bkg":0.0780,"bkgT":0.0808,"bkgE":0.0054,"sig":0.0037,"sigT":0.0038,"sigE":0.0003},
      {"bdt":-0.055,"bkg":0.0720,"bkgT":0.0698,"bkgE":0.0052,"sig":0.0045,"sigT":0.0045,"sigE":0.0003},
      {"bdt":-0.045,"bkg":0.0680,"bkgT":0.0712,"bkgE":0.0050,"sig":0.0055,"sigT":0.0054,"sigE":0.0004},
      {"bdt":-0.035,"bkg":0.0640,"bkgT":0.0612,"bkgE":0.0049,"sig":0.0065,"sigT":0.0067,"sigE":0.0004},
      {"bdt":-0.025,"bkg":0.0600,"bkgT":0.0628,"bkgE":0.0047,"sig":0.0080,"sigT":0.0079,"sigE":0.0004},
      {"bdt":-0.015,"bkg":0.0530,"bkgT":0.0565,"bkgE":0.0045,"sig":0.0100,"sigT":0.0102,"sigE":0.0005},
      {"bdt":-0.005,"bkg":0.0450,"bkgT":0.0430,"bkgE":0.0041,"sig":0.0125,"sigT":0.0123,"sigE":0.0005},
      {"bdt":0.005,"bkg":0.0390,"bkgT":0.0412,"bkgE":0.0038,"sig":0.0160,"sigT":0.0163,"sigE":0.0006},
      {"bdt":0.015,"bkg":0.0330,"bkgT":0.0315,"bkgE":0.0035,"sig":0.0200,"sigT":0.0197,"sigE":0.0007},
      {"bdt":0.025,"bkg":0.0290,"bkgT":0.0305,"bkgE":0.0033,"sig":0.0250,"sigT":0.0254,"sigE":0.0008},
      {"bdt":0.035,"bkg":0.0270,"bkgT":0.0292,"bkgE":0.0032,"sig":0.0300,"sigT":0.0296,"sigE":0.0008},
      {"bdt":0.045,"bkg":0.0240,"bkgT":0.0222,"bkgE":0.0030,"sig":0.0355,"sigT":0.0360,"sigE":0.0009},
      {"bdt":0.055,"bkg":0.0210,"bkgT":0.0232,"bkgE":0.0028,"sig":0.0410,"sigT":0.0405,"sigE":0.0010},
      {"bdt":0.065,"bkg":0.0180,"bkgT":0.0168,"bkgE":0.0026,"sig":0.0460,"sigT":0.0467,"sigE":0.0010},
      {"bdt":0.075,"bkg":0.0160,"bkgT":0.0178,"bkgE":0.0025,"sig":0.0520,"sigT":0.0513,"sigE":0.0011},
      {"bdt":0.085,"bkg":0.0150,"bkgT":0.0138,"bkgE":0.0024,"sig":0.0590,"sigT":0.0598,"sigE":0.0012},
      {"bdt":0.095,"bkg":0.0130,"bkgT":0.0145,"bkgE":0.0022,"sig":0.0660,"sigT":0.0652,"sigE":0.0012},
      {"bdt":0.105,"bkg":0.0110,"bkgT":0.0100,"bkgE":0.0020,"sig":0.0740,"sigT":0.0748,"sigE":0.0013},
      {"bdt":0.115,"bkg":0.0090,"bkgT":0.0098,"bkgE":0.0019,"sig":0.0810,"sigT":0.0802,"sigE":0.0014},
      {"bdt":0.125,"bkg":0.0070,"bkgT":0.0064,"bkgE":0.0016,"sig":0.0870,"sigT":0.0879,"sigE":0.0014},
      {"bdt":0.135,"bkg":0.0055,"bkgT":0.0060,"bkgE":0.0015,"sig":0.0950,"sigT":0.0941,"sigE":0.0015},
      {"bdt":0.145,"bkg":0.0045,"bkgT":0.0041,"bkgE":0.0013,"sig":0.1020,"sigT":0.1030,"sigE":0.0015},
      {"bdt":0.155,"bkg":0.0035,"bkgT":0.0038,"bkgE":0.0012,"sig":0.1100,"sigT":0.1091,"sigE":0.0016},
      {"bdt":0.165,"bkg":0.0030,"bkgT":0.0027,"bkgE":0.0011,"sig":0.1180,"sigT":0.1190,"sigE":0.0017},
      {"bdt":0.175,"bkg":0.0025,"bkgT":0.0027,"bkgE":0.0010,"sig":0.1250,"sigT":0.1240,"sigE":0.0017},
      {"bdt":0.185,"bkg":0.0020,"bkgT":0.0018,"bkgE":0.0009,"sig":0.1270,"sigT":0.1281,"sigE":0.0017},
      {"bdt":0.195,"bkg":0.0018,"bkgT":0.0019,"bkgE":0.0009,"sig":0.1285,"sigT":0.1275,"sigE":0.0018},
      {"bdt":0.205,"bkg":0.0015,"bkgT":0.0014,"bkgE":0.0008,"sig":0.1250,"sigT":0.1261,"sigE":0.0017},
      {"bdt":0.215,"bkg":0.0012,"bkgT":0.0013,"bkgE":0.0007,"sig":0.1200,"sigT":0.1190,"sigE":0.0017},
      {"bdt":0.225,"bkg":0.0010,"bkgT":0.0009,"bkgE":0.0007,"sig":0.1120,"sigT":0.1130,"sigE":0.0016},
      {"bdt":0.235,"bkg":0.0008,"bkgT":0.0009,"bkgE":0.0006,"sig":0.1030,"sigT":0.1021,"sigE":0.0016},
      {"bdt":0.245,"bkg":0.0007,"bkgT":0.0006,"bkgE":0.0006,"sig":0.0900,"sigT":0.0909,"sigE":0.0015},
      {"bdt":0.255,"bkg":0.0006,"bkgT":0.0006,"bkgE":0.0005,"sig":0.0790,"sigT":0.0782,"sigE":0.0014},
      {"bdt":0.265,"bkg":0.0005,"bkgT":0.0005,"bkgE":0.0005,"sig":0.0670,"sigT":0.0677,"sigE":0.0013},
      {"bdt":0.275,"bkg":0.0004,"bkgT":0.0004,"bkgE":0.0004,"sig":0.0540,"sigT":0.0534,"sigE":0.0011},
      {"bdt":0.285,"bkg":0.0004,"bkgT":0.0003,"bkgE":0.0004,"sig":0.0420,"sigT":0.0425,"sigE":0.0010},
      {"bdt":0.295,"bkg":0.0003,"bkgT":0.0003,"bkgE":0.0004,"sig":0.0290,"sigT":0.0287,"sigE":0.0009},
      {"bdt":0.305,"bkg":0.0003,"bkgT":0.0002,"bkgE":0.0003,"sig":0.0190,"sigT":0.0192,"sigE":0.0007},
      {"bdt":0.315,"bkg":0.0002,"bkgT":0.0002,"bkgE":0.0003,"sig":0.0100,"sigT":0.0099,"sigE":0.0005},
      {"bdt":0.325,"bkg":0.0002,"bkgT":0.0002,"bkgE":0.0003,"sig":0.0060,"sigT":0.0061,"sigE":0.0004},
      {"bdt":0.335,"bkg":0.0002,"bkgT":0.0001,"bkgE":0.0002,"sig":0.0030,"sigT":0.0030,"sigE":0.0003},
      {"bdt":0.345,"bkg":0.0001,"bkgT":0.0001,"bkgE":0.0002,"sig":0.0015,"sigT":0.0015,"sigE":0.0002},
      {"bdt":0.355,"bkg":0.0001,"bkgT":0.0001,"bkgE":0.0002,"sig":0.0007,"sigT":0.0007,"sigE":0.0002},
      {"bdt":0.365,"bkg":0.0001,"bkgT":0.0001,"bkgE":0.0001,"sig":0.0003,"sigT":0.0003,"sigE":0.0001}
    ]
  },
  "hconcat": [
    {
      "width": 205, "height": 251,
      "data": {"name": "jets"},
      "resolve": {"axis": {"x": "independent", "y": "independent"}},
      "layer": [
        {
          "mark": {"type": "area", "interpolate": "step", "stroke": "#0b0b82", "strokeWidth": 1,
                   "fill": {"gradient": "linear", "x1": 0, "y1": 1, "x2": 0, "y2": 0, "stops": [
                     {"offset":0,"color":"#141494"},
                     {"offset":0.144,"color":"#141494"},{"offset":0.154,"color":"#7070c8"},{"offset":0.164,"color":"#141494"},
                     {"offset":0.291,"color":"#141494"},{"offset":0.301,"color":"#7070c8"},{"offset":0.311,"color":"#141494"},
                     {"offset":0.439,"color":"#141494"},{"offset":0.449,"color":"#7070c8"},{"offset":0.459,"color":"#141494"},
                     {"offset":0.586,"color":"#141494"},{"offset":0.596,"color":"#7070c8"},{"offset":0.606,"color":"#141494"},
                     {"offset":0.733,"color":"#141494"},{"offset":0.743,"color":"#7070c8"},{"offset":0.753,"color":"#141494"},
                     {"offset":0.880,"color":"#141494"},{"offset":0.890,"color":"#7070c8"},{"offset":0.900,"color":"#141494"},
                     {"offset":1,"color":"#141494"}]}},
          "encoding": {
            "x": {"field": "bdt", "type": "quantitative", "scale": {"domain": [-0.56, 0.27], "nice": false, "zero": false},
                  "axis": {"orient": "bottom", "values": [-0.4, -0.2, 0, 0.2], "tickSize": -8, "labelPadding": 17, "labelExpr": "replace(format(datum.value, '~g'), '−', '-')", "title": "BDT (Adaptive Boost)", "titleX": 203, "titleY": 43, "titleAlign": "right", "titleBaseline": "alphabetic", "titleAngle": 0}},
            "y": {"field": "bkg", "type": "quantitative", "scale": {"domain": [0, 0.1365], "nice": false},
                  "axis": {"orient": "left", "values": [0, 0.02, 0.04, 0.06, 0.08, 0.1, 0.12], "tickSize": -8, "labelPadding": 13, "labelExpr": "format(datum.value, '~g')", "title": "Normalized entries", "titleX": -42.4, "titleY": -1, "titleAngle": 270, "titleAlign": "right", "titleBaseline": "alphabetic"}}
          }
        },
        {
          "mark": {"type": "area", "interpolate": "step", "stroke": "#ff0000", "strokeWidth": 1.2,
                   "fill": {"gradient": "linear", "x1": 0, "y1": 0, "x2": 1.0513, "y2": 0.9425, "stops": [
                     {"offset":0,"color":"#ff0000d9"},{"offset":0.005,"color":"#ff000000"},{"offset":0.01,"color":"#ff0000d9"},{"offset":0.015,"color":"#ff000000"},{"offset":0.02,"color":"#ff0000d9"},{"offset":0.025,"color":"#ff000000"},{"offset":0.03,"color":"#ff0000d9"},{"offset":0.035,"color":"#ff000000"},{"offset":0.04,"color":"#ff0000d9"},{"offset":0.045,"color":"#ff000000"},
                     {"offset":0.05,"color":"#ff0000d9"},{"offset":0.055,"color":"#ff000000"},{"offset":0.06,"color":"#ff0000d9"},{"offset":0.065,"color":"#ff000000"},{"offset":0.07,"color":"#ff0000d9"},{"offset":0.075,"color":"#ff000000"},{"offset":0.08,"color":"#ff0000d9"},{"offset":0.085,"color":"#ff000000"},{"offset":0.09,"color":"#ff0000d9"},{"offset":0.095,"color":"#ff000000"},
                     {"offset":0.1,"color":"#ff0000d9"},{"offset":0.105,"color":"#ff000000"},{"offset":0.11,"color":"#ff0000d9"},{"offset":0.115,"color":"#ff000000"},{"offset":0.12,"color":"#ff0000d9"},{"offset":0.125,"color":"#ff000000"},{"offset":0.13,"color":"#ff0000d9"},{"offset":0.135,"color":"#ff000000"},{"offset":0.14,"color":"#ff0000d9"},{"offset":0.145,"color":"#ff000000"},
                     {"offset":0.15,"color":"#ff0000d9"},{"offset":0.155,"color":"#ff000000"},{"offset":0.16,"color":"#ff0000d9"},{"offset":0.165,"color":"#ff000000"},{"offset":0.17,"color":"#ff0000d9"},{"offset":0.175,"color":"#ff000000"},{"offset":0.18,"color":"#ff0000d9"},{"offset":0.185,"color":"#ff000000"},{"offset":0.19,"color":"#ff0000d9"},{"offset":0.195,"color":"#ff000000"},
                     {"offset":0.2,"color":"#ff0000d9"},{"offset":0.205,"color":"#ff000000"},{"offset":0.21,"color":"#ff0000d9"},{"offset":0.215,"color":"#ff000000"},{"offset":0.22,"color":"#ff0000d9"},{"offset":0.225,"color":"#ff000000"},{"offset":0.23,"color":"#ff0000d9"},{"offset":0.235,"color":"#ff000000"},{"offset":0.24,"color":"#ff0000d9"},{"offset":0.245,"color":"#ff000000"},
                     {"offset":0.25,"color":"#ff0000d9"},{"offset":0.255,"color":"#ff000000"},{"offset":0.26,"color":"#ff0000d9"},{"offset":0.265,"color":"#ff000000"},{"offset":0.27,"color":"#ff0000d9"},{"offset":0.275,"color":"#ff000000"},{"offset":0.28,"color":"#ff0000d9"},{"offset":0.285,"color":"#ff000000"},{"offset":0.29,"color":"#ff0000d9"},{"offset":0.295,"color":"#ff000000"},
                     {"offset":0.3,"color":"#ff0000d9"},{"offset":0.305,"color":"#ff000000"},{"offset":0.31,"color":"#ff0000d9"},{"offset":0.315,"color":"#ff000000"},{"offset":0.32,"color":"#ff0000d9"},{"offset":0.325,"color":"#ff000000"},{"offset":0.33,"color":"#ff0000d9"},{"offset":0.335,"color":"#ff000000"},{"offset":0.34,"color":"#ff0000d9"},{"offset":0.345,"color":"#ff000000"},
                     {"offset":0.35,"color":"#ff0000d9"},{"offset":0.355,"color":"#ff000000"},{"offset":0.36,"color":"#ff0000d9"},{"offset":0.365,"color":"#ff000000"},{"offset":0.37,"color":"#ff0000d9"},{"offset":0.375,"color":"#ff000000"},{"offset":0.38,"color":"#ff0000d9"},{"offset":0.385,"color":"#ff000000"},{"offset":0.39,"color":"#ff0000d9"},{"offset":0.395,"color":"#ff000000"},
                     {"offset":0.4,"color":"#ff0000d9"},{"offset":0.405,"color":"#ff000000"},{"offset":0.41,"color":"#ff0000d9"},{"offset":0.415,"color":"#ff000000"},{"offset":0.42,"color":"#ff0000d9"},{"offset":0.425,"color":"#ff000000"},{"offset":0.43,"color":"#ff0000d9"},{"offset":0.435,"color":"#ff000000"},{"offset":0.44,"color":"#ff0000d9"},{"offset":0.445,"color":"#ff000000"},
                     {"offset":0.45,"color":"#ff0000d9"},{"offset":0.455,"color":"#ff000000"},{"offset":0.46,"color":"#ff0000d9"},{"offset":0.465,"color":"#ff000000"},{"offset":0.47,"color":"#ff0000d9"},{"offset":0.475,"color":"#ff000000"},{"offset":0.48,"color":"#ff0000d9"},{"offset":0.485,"color":"#ff000000"},{"offset":0.49,"color":"#ff0000d9"},{"offset":0.495,"color":"#ff000000"},
                     {"offset":0.5,"color":"#ff0000d9"},{"offset":0.505,"color":"#ff000000"},{"offset":0.51,"color":"#ff0000d9"},{"offset":0.515,"color":"#ff000000"},{"offset":0.52,"color":"#ff0000d9"},{"offset":0.525,"color":"#ff000000"},{"offset":0.53,"color":"#ff0000d9"},{"offset":0.535,"color":"#ff000000"},{"offset":0.54,"color":"#ff0000d9"},{"offset":0.545,"color":"#ff000000"},
                     {"offset":0.55,"color":"#ff0000d9"},{"offset":0.555,"color":"#ff000000"},{"offset":0.56,"color":"#ff0000d9"},{"offset":0.565,"color":"#ff000000"},{"offset":0.57,"color":"#ff0000d9"},{"offset":0.575,"color":"#ff000000"},{"offset":0.58,"color":"#ff0000d9"},{"offset":0.585,"color":"#ff000000"},{"offset":0.59,"color":"#ff0000d9"},{"offset":0.595,"color":"#ff000000"},
                     {"offset":0.6,"color":"#ff0000d9"},{"offset":0.605,"color":"#ff000000"},{"offset":0.61,"color":"#ff0000d9"},{"offset":0.615,"color":"#ff000000"},{"offset":0.62,"color":"#ff0000d9"},{"offset":0.625,"color":"#ff000000"},{"offset":0.63,"color":"#ff0000d9"},{"offset":0.635,"color":"#ff000000"},{"offset":0.64,"color":"#ff0000d9"},{"offset":0.645,"color":"#ff000000"},
                     {"offset":0.65,"color":"#ff0000d9"},{"offset":0.655,"color":"#ff000000"},{"offset":0.66,"color":"#ff0000d9"},{"offset":0.665,"color":"#ff000000"},{"offset":0.67,"color":"#ff0000d9"},{"offset":0.675,"color":"#ff000000"},{"offset":0.68,"color":"#ff0000d9"},{"offset":0.685,"color":"#ff000000"},{"offset":0.69,"color":"#ff0000d9"},{"offset":0.695,"color":"#ff000000"},
                     {"offset":0.7,"color":"#ff0000d9"},{"offset":0.705,"color":"#ff000000"},{"offset":0.71,"color":"#ff0000d9"},{"offset":0.715,"color":"#ff000000"},{"offset":0.72,"color":"#ff0000d9"},{"offset":0.725,"color":"#ff000000"},{"offset":0.73,"color":"#ff0000d9"},{"offset":0.735,"color":"#ff000000"},{"offset":0.74,"color":"#ff0000d9"},{"offset":0.745,"color":"#ff000000"},
                     {"offset":0.75,"color":"#ff0000d9"},{"offset":0.755,"color":"#ff000000"},{"offset":0.76,"color":"#ff0000d9"},{"offset":0.765,"color":"#ff000000"},{"offset":0.77,"color":"#ff0000d9"},{"offset":0.775,"color":"#ff000000"},{"offset":0.78,"color":"#ff0000d9"},{"offset":0.785,"color":"#ff000000"},{"offset":0.79,"color":"#ff0000d9"},{"offset":0.795,"color":"#ff000000"},
                     {"offset":0.8,"color":"#ff0000d9"},{"offset":0.805,"color":"#ff000000"},{"offset":0.81,"color":"#ff0000d9"},{"offset":0.815,"color":"#ff000000"},{"offset":0.82,"color":"#ff0000d9"},{"offset":0.825,"color":"#ff000000"},{"offset":0.83,"color":"#ff0000d9"},{"offset":0.835,"color":"#ff000000"},{"offset":0.84,"color":"#ff0000d9"},{"offset":0.845,"color":"#ff000000"},
                     {"offset":0.85,"color":"#ff0000d9"},{"offset":0.855,"color":"#ff000000"},{"offset":0.86,"color":"#ff0000d9"},{"offset":0.865,"color":"#ff000000"},{"offset":0.87,"color":"#ff0000d9"},{"offset":0.875,"color":"#ff000000"},{"offset":0.88,"color":"#ff0000d9"},{"offset":0.885,"color":"#ff000000"},{"offset":0.89,"color":"#ff0000d9"},{"offset":0.895,"color":"#ff000000"},
                     {"offset":0.9,"color":"#ff0000d9"},{"offset":0.905,"color":"#ff000000"},{"offset":0.91,"color":"#ff0000d9"},{"offset":0.915,"color":"#ff000000"},{"offset":0.92,"color":"#ff0000d9"},{"offset":0.925,"color":"#ff000000"},{"offset":0.93,"color":"#ff0000d9"},{"offset":0.935,"color":"#ff000000"},{"offset":0.94,"color":"#ff0000d9"},{"offset":0.945,"color":"#ff000000"},
                     {"offset":0.95,"color":"#ff0000d9"},{"offset":0.955,"color":"#ff000000"},{"offset":0.96,"color":"#ff0000d9"},{"offset":0.965,"color":"#ff000000"},{"offset":0.97,"color":"#ff0000d9"},{"offset":0.975,"color":"#ff000000"},{"offset":0.98,"color":"#ff0000d9"},{"offset":0.985,"color":"#ff000000"},{"offset":0.99,"color":"#ff0000d9"},{"offset":0.995,"color":"#ff000000"},
                     {"offset":1,"color":"#ff0000d9"}]}},
          "encoding": {
            "x": {"field": "bdt", "type": "quantitative", "axis": {"orient": "top", "values": [-0.4, -0.2, 0, 0.2], "tickSize": -8, "labels": false, "title": null}},
            "y": {"field": "sig", "type": "quantitative", "axis": {"orient": "right", "values": [0, 0.02, 0.04, 0.06, 0.08, 0.1, 0.12], "tickSize": -8, "labels": false, "title": null}}
          }
        },
        {
          "mark": {"type": "errorbar", "rule": {"strokeWidth": 1, "opacity": 0.8}},
          "encoding": {
            "x": {"field": "bdt", "type": "quantitative", "axis": {"orient": "bottom", "values": [-0.52, -0.48, -0.44, -0.36, -0.32, -0.28, -0.24, -0.16, -0.12, -0.08, -0.04, 0.04, 0.08, 0.12, 0.16, 0.24], "tickSize": -4, "labels": false, "title": null}},
            "y": {"field": "bkgT", "type": "quantitative", "axis": {"orient": "left", "values": [0.004, 0.008, 0.012, 0.016, 0.024, 0.028, 0.032, 0.036, 0.044, 0.048, 0.052, 0.056, 0.064, 0.068, 0.072, 0.076, 0.084, 0.088, 0.092, 0.096, 0.104, 0.108, 0.112, 0.116, 0.124, 0.128, 0.132, 0.136], "tickSize": -4, "labels": false, "title": null}},
            "yError": {"field": "bkgE"},
            "color": {"datum": "Background: Testing", "type": "nominal",
                      "scale": {"domain": ["Background: Training", "Background: Testing", "Signal: Training", "Signal: Testing"], "range": ["#141494", "#2e2eb4", "#ff0000", "#ff0000"]},
                      "legend": {"orient": "none", "legendX": 34, "legendY": 14, "title": null, "labelFontSize": 8.2, "labelColor": "#222222", "labelFont": "Liberation Sans", "rowPadding": -1, "labelOffset": 10, "symbolSize": 121, "symbolStrokeWidth": 1, "symbolType": "M-2.1,-0.95H2.1V0.95H-2.1Z",
                                 "encoding": {"symbols": {
                                   "shape": {"condition": {"test": "indexof(datum.value, 'Testing') >= 0", "value": "M-2.1,0H2.1"}, "value": "M-2.1,-0.95H2.1V0.95H-2.1Z"},
                                   "fill": {"condition": [
                                     {"test": "datum.value == 'Background: Training'", "value": "#141494"},
                                     {"test": "datum.value == 'Signal: Training'", "value": {"gradient": "linear", "x1": 0, "y1": 0, "x2": 1.2055, "y2": 0.545, "stops": [
                                       {"offset":0,"color":"#ff0000d9"},{"offset":0.0575,"color":"#ff000000"},{"offset":0.115,"color":"#ff0000d9"},{"offset":0.1725,"color":"#ff000000"},{"offset":0.23,"color":"#ff0000d9"},{"offset":0.2875,"color":"#ff000000"},{"offset":0.345,"color":"#ff0000d9"},{"offset":0.4025,"color":"#ff000000"},{"offset":0.46,"color":"#ff0000d9"},{"offset":0.5175,"color":"#ff000000"},{"offset":0.575,"color":"#ff0000d9"},{"offset":0.6325,"color":"#ff000000"},{"offset":0.69,"color":"#ff0000d9"},{"offset":0.7475,"color":"#ff000000"},{"offset":0.805,"color":"#ff0000d9"},{"offset":0.8625,"color":"#ff000000"},{"offset":0.92,"color":"#ff0000d9"},{"offset":0.9775,"color":"#ff000000"},{"offset":1,"color":"#ff000030"}]}}],
                                     "value": "transparent"},
                                   "stroke": {"condition": [
                                     {"test": "datum.value == 'Background: Training'", "value": "#0b0b82"},
                                     {"test": "datum.value == 'Background: Testing'", "value": "#2e2eb4"}],
                                     "value": "#ff0000"},
                                   "opacity": {"value": 1}, "strokeWidth": {"value": 1}}}}}
          }
        },
        {
          "mark": {"type": "errorbar", "color": "#ff0000", "rule": {"strokeWidth": 1, "opacity": 0.9}},
          "encoding": {
            "x": {"field": "bdt", "type": "quantitative", "axis": {"orient": "top", "values": [-0.52, -0.48, -0.44, -0.36, -0.32, -0.28, -0.24, -0.16, -0.12, -0.08, -0.04, 0.04, 0.08, 0.12, 0.16, 0.24], "tickSize": -4, "labels": false, "title": null}},
            "y": {"field": "sigT", "type": "quantitative", "axis": {"orient": "right", "values": [0.004, 0.008, 0.012, 0.016, 0.024, 0.028, 0.032, 0.036, 0.044, 0.048, 0.052, 0.056, 0.064, 0.068, 0.072, 0.076, 0.084, 0.088, 0.092, 0.096, 0.104, 0.108, 0.112, 0.116, 0.124, 0.128, 0.132, 0.136], "tickSize": -4, "labels": false, "title": null}},
            "yError": {"field": "sigE"}
          }
        },
        {
          "data": {"values": [{"label": "×10"}]},
          "mark": {"type": "text", "align": "left", "baseline": "alphabetic", "dx": -1.7, "dy": -2.3, "fontSize": 17, "color": "#222222", "font": "Liberation Sans"},
          "encoding": {"x": {"datum": -0.56, "type": "quantitative", "axis": null}, "y": {"datum": 0.1365, "type": "quantitative", "axis": null}, "text": {"field": "label"}}
        },
        {
          "data": {"values": [{"label": "-3"}]},
          "mark": {"type": "text", "align": "left", "baseline": "alphabetic", "dx": 28.3, "dy": -8, "fontSize": 12, "color": "#222222", "font": "Liberation Sans"},
          "encoding": {"x": {"datum": -0.56, "type": "quantitative", "axis": null}, "y": {"datum": 0.1365, "type": "quantitative", "axis": null}, "text": {"field": "label"}}
        },
        {
          "data": {"values": [{"label": "Jets"}]},
          "mark": {"type": "text", "align": "center", "baseline": "alphabetic", "dx": 0.5, "dy": -6, "fontSize": 24, "color": "#0000ff", "font": "Liberation Sans"},
          "encoding": {"x": {"datum": -0.145, "type": "quantitative", "axis": null}, "y": {"datum": 0.1365, "type": "quantitative", "axis": null}, "text": {"field": "label"}}
        }
      ]
    },
    {
      "width": 205.7, "height": 251,
      "data": {"name": "muons"},
      "resolve": {"axis": {"x": "independent", "y": "independent"}},
      "layer": [
        {
          "mark": {"type": "area", "interpolate": "step", "stroke": "#0b0b82", "strokeWidth": 1,
                   "fill": {"gradient": "linear", "x1": 0, "y1": 1, "x2": 0, "y2": 0, "stops": [
                     {"offset":0,"color":"#141494"},
                     {"offset":0.064,"color":"#141494"},{"offset":0.069,"color":"#7070c8"},{"offset":0.074,"color":"#141494"},
                     {"offset":0.133,"color":"#141494"},{"offset":0.138,"color":"#7070c8"},{"offset":0.143,"color":"#141494"},
                     {"offset":0.202,"color":"#141494"},{"offset":0.207,"color":"#7070c8"},{"offset":0.212,"color":"#141494"},
                     {"offset":0.272,"color":"#141494"},{"offset":0.277,"color":"#7070c8"},{"offset":0.282,"color":"#141494"},
                     {"offset":0.341,"color":"#141494"},{"offset":0.346,"color":"#7070c8"},{"offset":0.351,"color":"#141494"},
                     {"offset":0.410,"color":"#141494"},{"offset":0.415,"color":"#7070c8"},{"offset":0.420,"color":"#141494"},
                     {"offset":0.479,"color":"#141494"},{"offset":0.484,"color":"#7070c8"},{"offset":0.489,"color":"#141494"},
                     {"offset":0.548,"color":"#141494"},{"offset":0.553,"color":"#7070c8"},{"offset":0.558,"color":"#141494"},
                     {"offset":0.617,"color":"#141494"},{"offset":0.622,"color":"#7070c8"},{"offset":0.627,"color":"#141494"},
                     {"offset":0.686,"color":"#141494"},{"offset":0.691,"color":"#7070c8"},{"offset":0.696,"color":"#141494"},
                     {"offset":0.756,"color":"#141494"},{"offset":0.761,"color":"#7070c8"},{"offset":0.766,"color":"#141494"},
                     {"offset":0.825,"color":"#141494"},{"offset":0.830,"color":"#7070c8"},{"offset":0.835,"color":"#141494"},
                     {"offset":0.894,"color":"#141494"},{"offset":0.899,"color":"#7070c8"},{"offset":0.904,"color":"#141494"},
                     {"offset":0.963,"color":"#141494"},{"offset":0.968,"color":"#7070c8"},{"offset":0.973,"color":"#141494"},
                     {"offset":1,"color":"#141494"}]}},
          "encoding": {
            "x": {"field": "bdt", "type": "quantitative", "scale": {"domain": [-0.71, 0.41], "nice": false, "zero": false},
                  "axis": {"orient": "bottom", "values": [-0.6, -0.4, -0.2, 0, 0.2, 0.4], "tickSize": -8, "labelPadding": 17, "labelExpr": "replace(format(datum.value, '~g'), '−', '-')", "title": "BDT (Adaptive Boost)", "titleX": 203.7, "titleY": 43, "titleAlign": "right", "titleBaseline": "alphabetic", "titleAngle": 0}},
            "y": {"field": "bkg", "type": "quantitative", "scale": {"domain": [0, 0.142], "nice": false},
                  "axis": {"orient": "left", "values": [0, 0.02, 0.04, 0.06, 0.08, 0.1, 0.12, 0.14], "tickSize": -8, "labelPadding": 13, "labelExpr": "format(datum.value, '~g')", "title": "Normalized entries", "titleX": -42.4, "titleY": -1, "titleAngle": 270, "titleAlign": "right", "titleBaseline": "alphabetic"}}
          }
        },
        {
          "mark": {"type": "area", "interpolate": "step", "stroke": "#ff0000", "strokeWidth": 1.2,
                   "fill": {"gradient": "linear", "x1": 0, "y1": 0, "x2": 1.0513, "y2": 0.9425, "stops": [
                     {"offset":0,"color":"#ff0000d9"},{"offset":0.005,"color":"#ff000000"},{"offset":0.01,"color":"#ff0000d9"},{"offset":0.015,"color":"#ff000000"},{"offset":0.02,"color":"#ff0000d9"},{"offset":0.025,"color":"#ff000000"},{"offset":0.03,"color":"#ff0000d9"},{"offset":0.035,"color":"#ff000000"},{"offset":0.04,"color":"#ff0000d9"},{"offset":0.045,"color":"#ff000000"},
                     {"offset":0.05,"color":"#ff0000d9"},{"offset":0.055,"color":"#ff000000"},{"offset":0.06,"color":"#ff0000d9"},{"offset":0.065,"color":"#ff000000"},{"offset":0.07,"color":"#ff0000d9"},{"offset":0.075,"color":"#ff000000"},{"offset":0.08,"color":"#ff0000d9"},{"offset":0.085,"color":"#ff000000"},{"offset":0.09,"color":"#ff0000d9"},{"offset":0.095,"color":"#ff000000"},
                     {"offset":0.1,"color":"#ff0000d9"},{"offset":0.105,"color":"#ff000000"},{"offset":0.11,"color":"#ff0000d9"},{"offset":0.115,"color":"#ff000000"},{"offset":0.12,"color":"#ff0000d9"},{"offset":0.125,"color":"#ff000000"},{"offset":0.13,"color":"#ff0000d9"},{"offset":0.135,"color":"#ff000000"},{"offset":0.14,"color":"#ff0000d9"},{"offset":0.145,"color":"#ff000000"},
                     {"offset":0.15,"color":"#ff0000d9"},{"offset":0.155,"color":"#ff000000"},{"offset":0.16,"color":"#ff0000d9"},{"offset":0.165,"color":"#ff000000"},{"offset":0.17,"color":"#ff0000d9"},{"offset":0.175,"color":"#ff000000"},{"offset":0.18,"color":"#ff0000d9"},{"offset":0.185,"color":"#ff000000"},{"offset":0.19,"color":"#ff0000d9"},{"offset":0.195,"color":"#ff000000"},
                     {"offset":0.2,"color":"#ff0000d9"},{"offset":0.205,"color":"#ff000000"},{"offset":0.21,"color":"#ff0000d9"},{"offset":0.215,"color":"#ff000000"},{"offset":0.22,"color":"#ff0000d9"},{"offset":0.225,"color":"#ff000000"},{"offset":0.23,"color":"#ff0000d9"},{"offset":0.235,"color":"#ff000000"},{"offset":0.24,"color":"#ff0000d9"},{"offset":0.245,"color":"#ff000000"},
                     {"offset":0.25,"color":"#ff0000d9"},{"offset":0.255,"color":"#ff000000"},{"offset":0.26,"color":"#ff0000d9"},{"offset":0.265,"color":"#ff000000"},{"offset":0.27,"color":"#ff0000d9"},{"offset":0.275,"color":"#ff000000"},{"offset":0.28,"color":"#ff0000d9"},{"offset":0.285,"color":"#ff000000"},{"offset":0.29,"color":"#ff0000d9"},{"offset":0.295,"color":"#ff000000"},
                     {"offset":0.3,"color":"#ff0000d9"},{"offset":0.305,"color":"#ff000000"},{"offset":0.31,"color":"#ff0000d9"},{"offset":0.315,"color":"#ff000000"},{"offset":0.32,"color":"#ff0000d9"},{"offset":0.325,"color":"#ff000000"},{"offset":0.33,"color":"#ff0000d9"},{"offset":0.335,"color":"#ff000000"},{"offset":0.34,"color":"#ff0000d9"},{"offset":0.345,"color":"#ff000000"},
                     {"offset":0.35,"color":"#ff0000d9"},{"offset":0.355,"color":"#ff000000"},{"offset":0.36,"color":"#ff0000d9"},{"offset":0.365,"color":"#ff000000"},{"offset":0.37,"color":"#ff0000d9"},{"offset":0.375,"color":"#ff000000"},{"offset":0.38,"color":"#ff0000d9"},{"offset":0.385,"color":"#ff000000"},{"offset":0.39,"color":"#ff0000d9"},{"offset":0.395,"color":"#ff000000"},
                     {"offset":0.4,"color":"#ff0000d9"},{"offset":0.405,"color":"#ff000000"},{"offset":0.41,"color":"#ff0000d9"},{"offset":0.415,"color":"#ff000000"},{"offset":0.42,"color":"#ff0000d9"},{"offset":0.425,"color":"#ff000000"},{"offset":0.43,"color":"#ff0000d9"},{"offset":0.435,"color":"#ff000000"},{"offset":0.44,"color":"#ff0000d9"},{"offset":0.445,"color":"#ff000000"},
                     {"offset":0.45,"color":"#ff0000d9"},{"offset":0.455,"color":"#ff000000"},{"offset":0.46,"color":"#ff0000d9"},{"offset":0.465,"color":"#ff000000"},{"offset":0.47,"color":"#ff0000d9"},{"offset":0.475,"color":"#ff000000"},{"offset":0.48,"color":"#ff0000d9"},{"offset":0.485,"color":"#ff000000"},{"offset":0.49,"color":"#ff0000d9"},{"offset":0.495,"color":"#ff000000"},
                     {"offset":0.5,"color":"#ff0000d9"},{"offset":0.505,"color":"#ff000000"},{"offset":0.51,"color":"#ff0000d9"},{"offset":0.515,"color":"#ff000000"},{"offset":0.52,"color":"#ff0000d9"},{"offset":0.525,"color":"#ff000000"},{"offset":0.53,"color":"#ff0000d9"},{"offset":0.535,"color":"#ff000000"},{"offset":0.54,"color":"#ff0000d9"},{"offset":0.545,"color":"#ff000000"},
                     {"offset":0.55,"color":"#ff0000d9"},{"offset":0.555,"color":"#ff000000"},{"offset":0.56,"color":"#ff0000d9"},{"offset":0.565,"color":"#ff000000"},{"offset":0.57,"color":"#ff0000d9"},{"offset":0.575,"color":"#ff000000"},{"offset":0.58,"color":"#ff0000d9"},{"offset":0.585,"color":"#ff000000"},{"offset":0.59,"color":"#ff0000d9"},{"offset":0.595,"color":"#ff000000"},
                     {"offset":0.6,"color":"#ff0000d9"},{"offset":0.605,"color":"#ff000000"},{"offset":0.61,"color":"#ff0000d9"},{"offset":0.615,"color":"#ff000000"},{"offset":0.62,"color":"#ff0000d9"},{"offset":0.625,"color":"#ff000000"},{"offset":0.63,"color":"#ff0000d9"},{"offset":0.635,"color":"#ff000000"},{"offset":0.64,"color":"#ff0000d9"},{"offset":0.645,"color":"#ff000000"},
                     {"offset":0.65,"color":"#ff0000d9"},{"offset":0.655,"color":"#ff000000"},{"offset":0.66,"color":"#ff0000d9"},{"offset":0.665,"color":"#ff000000"},{"offset":0.67,"color":"#ff0000d9"},{"offset":0.675,"color":"#ff000000"},{"offset":0.68,"color":"#ff0000d9"},{"offset":0.685,"color":"#ff000000"},{"offset":0.69,"color":"#ff0000d9"},{"offset":0.695,"color":"#ff000000"},
                     {"offset":0.7,"color":"#ff0000d9"},{"offset":0.705,"color":"#ff000000"},{"offset":0.71,"color":"#ff0000d9"},{"offset":0.715,"color":"#ff000000"},{"offset":0.72,"color":"#ff0000d9"},{"offset":0.725,"color":"#ff000000"},{"offset":0.73,"color":"#ff0000d9"},{"offset":0.735,"color":"#ff000000"},{"offset":0.74,"color":"#ff0000d9"},{"offset":0.745,"color":"#ff000000"},
                     {"offset":0.75,"color":"#ff0000d9"},{"offset":0.755,"color":"#ff000000"},{"offset":0.76,"color":"#ff0000d9"},{"offset":0.765,"color":"#ff000000"},{"offset":0.77,"color":"#ff0000d9"},{"offset":0.775,"color":"#ff000000"},{"offset":0.78,"color":"#ff0000d9"},{"offset":0.785,"color":"#ff000000"},{"offset":0.79,"color":"#ff0000d9"},{"offset":0.795,"color":"#ff000000"},
                     {"offset":0.8,"color":"#ff0000d9"},{"offset":0.805,"color":"#ff000000"},{"offset":0.81,"color":"#ff0000d9"},{"offset":0.815,"color":"#ff000000"},{"offset":0.82,"color":"#ff0000d9"},{"offset":0.825,"color":"#ff000000"},{"offset":0.83,"color":"#ff0000d9"},{"offset":0.835,"color":"#ff000000"},{"offset":0.84,"color":"#ff0000d9"},{"offset":0.845,"color":"#ff000000"},
                     {"offset":0.85,"color":"#ff0000d9"},{"offset":0.855,"color":"#ff000000"},{"offset":0.86,"color":"#ff0000d9"},{"offset":0.865,"color":"#ff000000"},{"offset":0.87,"color":"#ff0000d9"},{"offset":0.875,"color":"#ff000000"},{"offset":0.88,"color":"#ff0000d9"},{"offset":0.885,"color":"#ff000000"},{"offset":0.89,"color":"#ff0000d9"},{"offset":0.895,"color":"#ff000000"},
                     {"offset":0.9,"color":"#ff0000d9"},{"offset":0.905,"color":"#ff000000"},{"offset":0.91,"color":"#ff0000d9"},{"offset":0.915,"color":"#ff000000"},{"offset":0.92,"color":"#ff0000d9"},{"offset":0.925,"color":"#ff000000"},{"offset":0.93,"color":"#ff0000d9"},{"offset":0.935,"color":"#ff000000"},{"offset":0.94,"color":"#ff0000d9"},{"offset":0.945,"color":"#ff000000"},
                     {"offset":0.95,"color":"#ff0000d9"},{"offset":0.955,"color":"#ff000000"},{"offset":0.96,"color":"#ff0000d9"},{"offset":0.965,"color":"#ff000000"},{"offset":0.97,"color":"#ff0000d9"},{"offset":0.975,"color":"#ff000000"},{"offset":0.98,"color":"#ff0000d9"},{"offset":0.985,"color":"#ff000000"},{"offset":0.99,"color":"#ff0000d9"},{"offset":0.995,"color":"#ff000000"},
                     {"offset":1,"color":"#ff0000d9"}]}},
          "encoding": {
            "x": {"field": "bdt", "type": "quantitative", "axis": {"orient": "top", "values": [-0.6, -0.4, -0.2, 0, 0.2, 0.4], "tickSize": -8, "labels": false, "title": null}},
            "y": {"field": "sig", "type": "quantitative", "axis": {"orient": "right", "values": [0, 0.02, 0.04, 0.06, 0.08, 0.1, 0.12, 0.14], "tickSize": -8, "labels": false, "title": null}}
          }
        },
        {
          "mark": {"type": "errorbar", "rule": {"strokeWidth": 1, "opacity": 0.8}},
          "encoding": {
            "x": {"field": "bdt", "type": "quantitative", "axis": {"orient": "bottom", "values": [-0.68, -0.64, -0.56, -0.52, -0.48, -0.44, -0.36, -0.32, -0.28, -0.24, -0.16, -0.12, -0.08, -0.04, 0.04, 0.08, 0.12, 0.16, 0.24, 0.28, 0.32, 0.36], "tickSize": -4, "labels": false, "title": null}},
            "y": {"field": "bkgT", "type": "quantitative", "axis": {"orient": "left", "values": [0.004, 0.008, 0.012, 0.016, 0.024, 0.028, 0.032, 0.036, 0.044, 0.048, 0.052, 0.056, 0.064, 0.068, 0.072, 0.076, 0.084, 0.088, 0.092, 0.096, 0.104, 0.108, 0.112, 0.116, 0.124, 0.128, 0.132, 0.136], "tickSize": -4, "labels": false, "title": null}},
            "yError": {"field": "bkgE"},
            "color": {"datum": "Background: Testing", "type": "nominal",
                      "scale": {"domain": ["Background: Training", "Background: Testing", "Signal: Training", "Signal: Testing"], "range": ["#141494", "#2e2eb4", "#ff0000", "#ff0000"]},
                      "legend": {"orient": "none", "legendX": 35.4, "legendY": 14, "title": null, "labelFontSize": 8.2, "labelColor": "#222222", "labelFont": "Liberation Sans", "rowPadding": -1, "labelOffset": 10, "symbolSize": 121, "symbolStrokeWidth": 1, "symbolType": "M-2.1,-0.95H2.1V0.95H-2.1Z",
                                 "encoding": {"symbols": {
                                   "shape": {"condition": {"test": "indexof(datum.value, 'Testing') >= 0", "value": "M-2.1,0H2.1"}, "value": "M-2.1,-0.95H2.1V0.95H-2.1Z"},
                                   "fill": {"condition": [
                                     {"test": "datum.value == 'Background: Training'", "value": "#141494"},
                                     {"test": "datum.value == 'Signal: Training'", "value": {"gradient": "linear", "x1": 0, "y1": 0, "x2": 1.2055, "y2": 0.545, "stops": [
                                       {"offset":0,"color":"#ff0000d9"},{"offset":0.0575,"color":"#ff000000"},{"offset":0.115,"color":"#ff0000d9"},{"offset":0.1725,"color":"#ff000000"},{"offset":0.23,"color":"#ff0000d9"},{"offset":0.2875,"color":"#ff000000"},{"offset":0.345,"color":"#ff0000d9"},{"offset":0.4025,"color":"#ff000000"},{"offset":0.46,"color":"#ff0000d9"},{"offset":0.5175,"color":"#ff000000"},{"offset":0.575,"color":"#ff0000d9"},{"offset":0.6325,"color":"#ff000000"},{"offset":0.69,"color":"#ff0000d9"},{"offset":0.7475,"color":"#ff000000"},{"offset":0.805,"color":"#ff0000d9"},{"offset":0.8625,"color":"#ff000000"},{"offset":0.92,"color":"#ff0000d9"},{"offset":0.9775,"color":"#ff000000"},{"offset":1,"color":"#ff000030"}]}}],
                                     "value": "transparent"},
                                   "stroke": {"condition": [
                                     {"test": "datum.value == 'Background: Training'", "value": "#0b0b82"},
                                     {"test": "datum.value == 'Background: Testing'", "value": "#2e2eb4"}],
                                     "value": "#ff0000"},
                                   "opacity": {"value": 1}, "strokeWidth": {"value": 1}}}}}
          }
        },
        {
          "mark": {"type": "errorbar", "color": "#ff0000", "rule": {"strokeWidth": 1, "opacity": 0.9}},
          "encoding": {
            "x": {"field": "bdt", "type": "quantitative", "axis": {"orient": "top", "values": [-0.68, -0.64, -0.56, -0.52, -0.48, -0.44, -0.36, -0.32, -0.28, -0.24, -0.16, -0.12, -0.08, -0.04, 0.04, 0.08, 0.12, 0.16, 0.24, 0.28, 0.32, 0.36], "tickSize": -4, "labels": false, "title": null}},
            "y": {"field": "sigT", "type": "quantitative", "axis": {"orient": "right", "values": [0.004, 0.008, 0.012, 0.016, 0.024, 0.028, 0.032, 0.036, 0.044, 0.048, 0.052, 0.056, 0.064, 0.068, 0.072, 0.076, 0.084, 0.088, 0.092, 0.096, 0.104, 0.108, 0.112, 0.116, 0.124, 0.128, 0.132, 0.136], "tickSize": -4, "labels": false, "title": null}},
            "yError": {"field": "sigE"}
          }
        },
        {
          "data": {"values": [{"label": "×10"}]},
          "mark": {"type": "text", "align": "left", "baseline": "alphabetic", "dx": -1.7, "dy": -2.3, "fontSize": 17, "color": "#222222", "font": "Liberation Sans"},
          "encoding": {"x": {"datum": -0.71, "type": "quantitative", "axis": null}, "y": {"datum": 0.142, "type": "quantitative", "axis": null}, "text": {"field": "label"}}
        },
        {
          "data": {"values": [{"label": "-3"}]},
          "mark": {"type": "text", "align": "left", "baseline": "alphabetic", "dx": 28.3, "dy": -8, "fontSize": 12, "color": "#222222", "font": "Liberation Sans"},
          "encoding": {"x": {"datum": -0.71, "type": "quantitative", "axis": null}, "y": {"datum": 0.142, "type": "quantitative", "axis": null}, "text": {"field": "label"}}
        },
        {
          "data": {"values": [{"label": "Muons"}]},
          "mark": {"type": "text", "align": "center", "baseline": "alphabetic", "dx": -11, "dy": -6, "fontSize": 24, "color": "#0000ff", "font": "Liberation Sans"},
          "encoding": {"x": {"datum": -0.15, "type": "quantitative", "axis": null}, "y": {"datum": 0.142, "type": "quantitative", "axis": null}, "text": {"field": "label"}}
        }
      ]
    },
    {
      "width": 205, "height": 251,
      "data": {"name": "electrons"},
      "resolve": {"axis": {"x": "independent", "y": "independent"}},
      "layer": [
        {
          "mark": {"type": "area", "interpolate": "step", "stroke": "#0b0b82", "strokeWidth": 1,
                   "fill": {"gradient": "linear", "x1": 0, "y1": 1, "x2": 0, "y2": 0, "stops": [
                     {"offset":0,"color":"#141494"},
                     {"offset":0.068,"color":"#141494"},{"offset":0.073,"color":"#7070c8"},{"offset":0.078,"color":"#141494"},
                     {"offset":0.141,"color":"#141494"},{"offset":0.146,"color":"#7070c8"},{"offset":0.151,"color":"#141494"},
                     {"offset":0.215,"color":"#141494"},{"offset":0.220,"color":"#7070c8"},{"offset":0.225,"color":"#141494"},
                     {"offset":0.288,"color":"#141494"},{"offset":0.293,"color":"#7070c8"},{"offset":0.298,"color":"#141494"},
                     {"offset":0.361,"color":"#141494"},{"offset":0.366,"color":"#7070c8"},{"offset":0.371,"color":"#141494"},
                     {"offset":0.434,"color":"#141494"},{"offset":0.439,"color":"#7070c8"},{"offset":0.444,"color":"#141494"},
                     {"offset":0.507,"color":"#141494"},{"offset":0.512,"color":"#7070c8"},{"offset":0.517,"color":"#141494"},
                     {"offset":0.580,"color":"#141494"},{"offset":0.585,"color":"#7070c8"},{"offset":0.590,"color":"#141494"},
                     {"offset":0.654,"color":"#141494"},{"offset":0.659,"color":"#7070c8"},{"offset":0.664,"color":"#141494"},
                     {"offset":0.727,"color":"#141494"},{"offset":0.732,"color":"#7070c8"},{"offset":0.737,"color":"#141494"},
                     {"offset":0.800,"color":"#141494"},{"offset":0.805,"color":"#7070c8"},{"offset":0.810,"color":"#141494"},
                     {"offset":0.873,"color":"#141494"},{"offset":0.878,"color":"#7070c8"},{"offset":0.883,"color":"#141494"},
                     {"offset":0.946,"color":"#141494"},{"offset":0.951,"color":"#7070c8"},{"offset":0.956,"color":"#141494"},
                     {"offset":1,"color":"#141494"}]}},
          "encoding": {
            "x": {"field": "bdt", "type": "quantitative", "scale": {"domain": [-0.73, 0.37], "nice": false, "zero": false},
                  "axis": {"orient": "bottom", "values": [-0.6, -0.4, -0.2, 0, 0.2], "tickSize": -8, "labelPadding": 17, "labelExpr": "replace(format(datum.value, '~g'), '−', '-')", "title": "BDT (Adaptive Boost)", "titleX": 203, "titleY": 43, "titleAlign": "right", "titleBaseline": "alphabetic", "titleAngle": 0}},
            "y": {"field": "bkg", "type": "quantitative", "scale": {"domain": [0, 0.1753], "nice": false},
                  "axis": {"orient": "left", "values": [0, 0.05, 0.1, 0.15], "tickSize": -8, "labelPadding": 13, "labelExpr": "format(datum.value, '~g')", "title": "Normalized entries", "titleX": -42.4, "titleY": -1, "titleAngle": 270, "titleAlign": "right", "titleBaseline": "alphabetic"}}
          }
        },
        {
          "mark": {"type": "area", "interpolate": "step", "stroke": "#ff0000", "strokeWidth": 1.2,
                   "fill": {"gradient": "linear", "x1": 0, "y1": 0, "x2": 1.0513, "y2": 0.9425, "stops": [
                     {"offset":0,"color":"#ff0000d9"},{"offset":0.005,"color":"#ff000000"},{"offset":0.01,"color":"#ff0000d9"},{"offset":0.015,"color":"#ff000000"},{"offset":0.02,"color":"#ff0000d9"},{"offset":0.025,"color":"#ff000000"},{"offset":0.03,"color":"#ff0000d9"},{"offset":0.035,"color":"#ff000000"},{"offset":0.04,"color":"#ff0000d9"},{"offset":0.045,"color":"#ff000000"},
                     {"offset":0.05,"color":"#ff0000d9"},{"offset":0.055,"color":"#ff000000"},{"offset":0.06,"color":"#ff0000d9"},{"offset":0.065,"color":"#ff000000"},{"offset":0.07,"color":"#ff0000d9"},{"offset":0.075,"color":"#ff000000"},{"offset":0.08,"color":"#ff0000d9"},{"offset":0.085,"color":"#ff000000"},{"offset":0.09,"color":"#ff0000d9"},{"offset":0.095,"color":"#ff000000"},
                     {"offset":0.1,"color":"#ff0000d9"},{"offset":0.105,"color":"#ff000000"},{"offset":0.11,"color":"#ff0000d9"},{"offset":0.115,"color":"#ff000000"},{"offset":0.12,"color":"#ff0000d9"},{"offset":0.125,"color":"#ff000000"},{"offset":0.13,"color":"#ff0000d9"},{"offset":0.135,"color":"#ff000000"},{"offset":0.14,"color":"#ff0000d9"},{"offset":0.145,"color":"#ff000000"},
                     {"offset":0.15,"color":"#ff0000d9"},{"offset":0.155,"color":"#ff000000"},{"offset":0.16,"color":"#ff0000d9"},{"offset":0.165,"color":"#ff000000"},{"offset":0.17,"color":"#ff0000d9"},{"offset":0.175,"color":"#ff000000"},{"offset":0.18,"color":"#ff0000d9"},{"offset":0.185,"color":"#ff000000"},{"offset":0.19,"color":"#ff0000d9"},{"offset":0.195,"color":"#ff000000"},
                     {"offset":0.2,"color":"#ff0000d9"},{"offset":0.205,"color":"#ff000000"},{"offset":0.21,"color":"#ff0000d9"},{"offset":0.215,"color":"#ff000000"},{"offset":0.22,"color":"#ff0000d9"},{"offset":0.225,"color":"#ff000000"},{"offset":0.23,"color":"#ff0000d9"},{"offset":0.235,"color":"#ff000000"},{"offset":0.24,"color":"#ff0000d9"},{"offset":0.245,"color":"#ff000000"},
                     {"offset":0.25,"color":"#ff0000d9"},{"offset":0.255,"color":"#ff000000"},{"offset":0.26,"color":"#ff0000d9"},{"offset":0.265,"color":"#ff000000"},{"offset":0.27,"color":"#ff0000d9"},{"offset":0.275,"color":"#ff000000"},{"offset":0.28,"color":"#ff0000d9"},{"offset":0.285,"color":"#ff000000"},{"offset":0.29,"color":"#ff0000d9"},{"offset":0.295,"color":"#ff000000"},
                     {"offset":0.3,"color":"#ff0000d9"},{"offset":0.305,"color":"#ff000000"},{"offset":0.31,"color":"#ff0000d9"},{"offset":0.315,"color":"#ff000000"},{"offset":0.32,"color":"#ff0000d9"},{"offset":0.325,"color":"#ff000000"},{"offset":0.33,"color":"#ff0000d9"},{"offset":0.335,"color":"#ff000000"},{"offset":0.34,"color":"#ff0000d9"},{"offset":0.345,"color":"#ff000000"},
                     {"offset":0.35,"color":"#ff0000d9"},{"offset":0.355,"color":"#ff000000"},{"offset":0.36,"color":"#ff0000d9"},{"offset":0.365,"color":"#ff000000"},{"offset":0.37,"color":"#ff0000d9"},{"offset":0.375,"color":"#ff000000"},{"offset":0.38,"color":"#ff0000d9"},{"offset":0.385,"color":"#ff000000"},{"offset":0.39,"color":"#ff0000d9"},{"offset":0.395,"color":"#ff000000"},
                     {"offset":0.4,"color":"#ff0000d9"},{"offset":0.405,"color":"#ff000000"},{"offset":0.41,"color":"#ff0000d9"},{"offset":0.415,"color":"#ff000000"},{"offset":0.42,"color":"#ff0000d9"},{"offset":0.425,"color":"#ff000000"},{"offset":0.43,"color":"#ff0000d9"},{"offset":0.435,"color":"#ff000000"},{"offset":0.44,"color":"#ff0000d9"},{"offset":0.445,"color":"#ff000000"},
                     {"offset":0.45,"color":"#ff0000d9"},{"offset":0.455,"color":"#ff000000"},{"offset":0.46,"color":"#ff0000d9"},{"offset":0.465,"color":"#ff000000"},{"offset":0.47,"color":"#ff0000d9"},{"offset":0.475,"color":"#ff000000"},{"offset":0.48,"color":"#ff0000d9"},{"offset":0.485,"color":"#ff000000"},{"offset":0.49,"color":"#ff0000d9"},{"offset":0.495,"color":"#ff000000"},
                     {"offset":0.5,"color":"#ff0000d9"},{"offset":0.505,"color":"#ff000000"},{"offset":0.51,"color":"#ff0000d9"},{"offset":0.515,"color":"#ff000000"},{"offset":0.52,"color":"#ff0000d9"},{"offset":0.525,"color":"#ff000000"},{"offset":0.53,"color":"#ff0000d9"},{"offset":0.535,"color":"#ff000000"},{"offset":0.54,"color":"#ff0000d9"},{"offset":0.545,"color":"#ff000000"},
                     {"offset":0.55,"color":"#ff0000d9"},{"offset":0.555,"color":"#ff000000"},{"offset":0.56,"color":"#ff0000d9"},{"offset":0.565,"color":"#ff000000"},{"offset":0.57,"color":"#ff0000d9"},{"offset":0.575,"color":"#ff000000"},{"offset":0.58,"color":"#ff0000d9"},{"offset":0.585,"color":"#ff000000"},{"offset":0.59,"color":"#ff0000d9"},{"offset":0.595,"color":"#ff000000"},
                     {"offset":0.6,"color":"#ff0000d9"},{"offset":0.605,"color":"#ff000000"},{"offset":0.61,"color":"#ff0000d9"},{"offset":0.615,"color":"#ff000000"},{"offset":0.62,"color":"#ff0000d9"},{"offset":0.625,"color":"#ff000000"},{"offset":0.63,"color":"#ff0000d9"},{"offset":0.635,"color":"#ff000000"},{"offset":0.64,"color":"#ff0000d9"},{"offset":0.645,"color":"#ff000000"},
                     {"offset":0.65,"color":"#ff0000d9"},{"offset":0.655,"color":"#ff000000"},{"offset":0.66,"color":"#ff0000d9"},{"offset":0.665,"color":"#ff000000"},{"offset":0.67,"color":"#ff0000d9"},{"offset":0.675,"color":"#ff000000"},{"offset":0.68,"color":"#ff0000d9"},{"offset":0.685,"color":"#ff000000"},{"offset":0.69,"color":"#ff0000d9"},{"offset":0.695,"color":"#ff000000"},
                     {"offset":0.7,"color":"#ff0000d9"},{"offset":0.705,"color":"#ff000000"},{"offset":0.71,"color":"#ff0000d9"},{"offset":0.715,"color":"#ff000000"},{"offset":0.72,"color":"#ff0000d9"},{"offset":0.725,"color":"#ff000000"},{"offset":0.73,"color":"#ff0000d9"},{"offset":0.735,"color":"#ff000000"},{"offset":0.74,"color":"#ff0000d9"},{"offset":0.745,"color":"#ff000000"},
                     {"offset":0.75,"color":"#ff0000d9"},{"offset":0.755,"color":"#ff000000"},{"offset":0.76,"color":"#ff0000d9"},{"offset":0.765,"color":"#ff000000"},{"offset":0.77,"color":"#ff0000d9"},{"offset":0.775,"color":"#ff000000"},{"offset":0.78,"color":"#ff0000d9"},{"offset":0.785,"color":"#ff000000"},{"offset":0.79,"color":"#ff0000d9"},{"offset":0.795,"color":"#ff000000"},
                     {"offset":0.8,"color":"#ff0000d9"},{"offset":0.805,"color":"#ff000000"},{"offset":0.81,"color":"#ff0000d9"},{"offset":0.815,"color":"#ff000000"},{"offset":0.82,"color":"#ff0000d9"},{"offset":0.825,"color":"#ff000000"},{"offset":0.83,"color":"#ff0000d9"},{"offset":0.835,"color":"#ff000000"},{"offset":0.84,"color":"#ff0000d9"},{"offset":0.845,"color":"#ff000000"},
                     {"offset":0.85,"color":"#ff0000d9"},{"offset":0.855,"color":"#ff000000"},{"offset":0.86,"color":"#ff0000d9"},{"offset":0.865,"color":"#ff000000"},{"offset":0.87,"color":"#ff0000d9"},{"offset":0.875,"color":"#ff000000"},{"offset":0.88,"color":"#ff0000d9"},{"offset":0.885,"color":"#ff000000"},{"offset":0.89,"color":"#ff0000d9"},{"offset":0.895,"color":"#ff000000"},
                     {"offset":0.9,"color":"#ff0000d9"},{"offset":0.905,"color":"#ff000000"},{"offset":0.91,"color":"#ff0000d9"},{"offset":0.915,"color":"#ff000000"},{"offset":0.92,"color":"#ff0000d9"},{"offset":0.925,"color":"#ff000000"},{"offset":0.93,"color":"#ff0000d9"},{"offset":0.935,"color":"#ff000000"},{"offset":0.94,"color":"#ff0000d9"},{"offset":0.945,"color":"#ff000000"},
                     {"offset":0.95,"color":"#ff0000d9"},{"offset":0.955,"color":"#ff000000"},{"offset":0.96,"color":"#ff0000d9"},{"offset":0.965,"color":"#ff000000"},{"offset":0.97,"color":"#ff0000d9"},{"offset":0.975,"color":"#ff000000"},{"offset":0.98,"color":"#ff0000d9"},{"offset":0.985,"color":"#ff000000"},{"offset":0.99,"color":"#ff0000d9"},{"offset":0.995,"color":"#ff000000"},
                     {"offset":1,"color":"#ff0000d9"}]}},
          "encoding": {
            "x": {"field": "bdt", "type": "quantitative", "axis": {"orient": "top", "values": [-0.6, -0.4, -0.2, 0, 0.2], "tickSize": -8, "labels": false, "title": null}},
            "y": {"field": "sig", "type": "quantitative", "axis": {"orient": "right", "values": [0, 0.05, 0.1, 0.15], "tickSize": -8, "labels": false, "title": null}}
          }
        },
        {
          "mark": {"type": "errorbar", "rule": {"strokeWidth": 1, "opacity": 0.8}},
          "encoding": {
            "x": {"field": "bdt", "type": "quantitative", "axis": {"orient": "bottom", "values": [-0.72, -0.68, -0.64, -0.56, -0.52, -0.48, -0.44, -0.36, -0.32, -0.28, -0.24, -0.16, -0.12, -0.08, -0.04, 0.04, 0.08, 0.12, 0.16, 0.24, 0.28, 0.32, 0.36], "tickSize": -4, "labels": false, "title": null}},
            "y": {"field": "bkgT", "type": "quantitative", "axis": {"orient": "left", "values": [0.01, 0.02, 0.03, 0.04, 0.06, 0.07, 0.08, 0.09, 0.11, 0.12, 0.13, 0.14, 0.16, 0.17], "tickSize": -4, "labels": false, "title": null}},
            "yError": {"field": "bkgE"},
            "color": {"datum": "Background: Testing", "type": "nominal",
                      "scale": {"domain": ["Background: Training", "Background: Testing", "Signal: Training", "Signal: Testing"], "range": ["#141494", "#2e2eb4", "#ff0000", "#ff0000"]},
                      "legend": {"orient": "none", "legendX": 36, "legendY": 14, "title": null, "labelFontSize": 8.2, "labelColor": "#222222", "labelFont": "Liberation Sans", "rowPadding": -1, "labelOffset": 10, "symbolSize": 121, "symbolStrokeWidth": 1, "symbolType": "M-2.1,-0.95H2.1V0.95H-2.1Z",
                                 "encoding": {"symbols": {
                                   "shape": {"condition": {"test": "indexof(datum.value, 'Testing') >= 0", "value": "M-2.1,0H2.1"}, "value": "M-2.1,-0.95H2.1V0.95H-2.1Z"},
                                   "fill": {"condition": [
                                     {"test": "datum.value == 'Background: Training'", "value": "#141494"},
                                     {"test": "datum.value == 'Signal: Training'", "value": {"gradient": "linear", "x1": 0, "y1": 0, "x2": 1.2055, "y2": 0.545, "stops": [
                                       {"offset":0,"color":"#ff0000d9"},{"offset":0.0575,"color":"#ff000000"},{"offset":0.115,"color":"#ff0000d9"},{"offset":0.1725,"color":"#ff000000"},{"offset":0.23,"color":"#ff0000d9"},{"offset":0.2875,"color":"#ff000000"},{"offset":0.345,"color":"#ff0000d9"},{"offset":0.4025,"color":"#ff000000"},{"offset":0.46,"color":"#ff0000d9"},{"offset":0.5175,"color":"#ff000000"},{"offset":0.575,"color":"#ff0000d9"},{"offset":0.6325,"color":"#ff000000"},{"offset":0.69,"color":"#ff0000d9"},{"offset":0.7475,"color":"#ff000000"},{"offset":0.805,"color":"#ff0000d9"},{"offset":0.8625,"color":"#ff000000"},{"offset":0.92,"color":"#ff0000d9"},{"offset":0.9775,"color":"#ff000000"},{"offset":1,"color":"#ff000030"}]}}],
                                     "value": "transparent"},
                                   "stroke": {"condition": [
                                     {"test": "datum.value == 'Background: Training'", "value": "#0b0b82"},
                                     {"test": "datum.value == 'Background: Testing'", "value": "#2e2eb4"}],
                                     "value": "#ff0000"},
                                   "opacity": {"value": 1}, "strokeWidth": {"value": 1}}}}}
          }
        },
        {
          "mark": {"type": "errorbar", "color": "#ff0000", "rule": {"strokeWidth": 1, "opacity": 0.9}},
          "encoding": {
            "x": {"field": "bdt", "type": "quantitative", "axis": {"orient": "top", "values": [-0.72, -0.68, -0.64, -0.56, -0.52, -0.48, -0.44, -0.36, -0.32, -0.28, -0.24, -0.16, -0.12, -0.08, -0.04, 0.04, 0.08, 0.12, 0.16, 0.24, 0.28, 0.32, 0.36], "tickSize": -4, "labels": false, "title": null}},
            "y": {"field": "sigT", "type": "quantitative", "axis": {"orient": "right", "values": [0.01, 0.02, 0.03, 0.04, 0.06, 0.07, 0.08, 0.09, 0.11, 0.12, 0.13, 0.14, 0.16, 0.17], "tickSize": -4, "labels": false, "title": null}},
            "yError": {"field": "sigE"}
          }
        },
        {
          "data": {"values": [{"label": "×10"}]},
          "mark": {"type": "text", "align": "left", "baseline": "alphabetic", "dx": -1.7, "dy": -2.3, "fontSize": 17, "color": "#222222", "font": "Liberation Sans"},
          "encoding": {"x": {"datum": -0.73, "type": "quantitative", "axis": null}, "y": {"datum": 0.1753, "type": "quantitative", "axis": null}, "text": {"field": "label"}}
        },
        {
          "data": {"values": [{"label": "-3"}]},
          "mark": {"type": "text", "align": "left", "baseline": "alphabetic", "dx": 28.3, "dy": -8, "fontSize": 12, "color": "#222222", "font": "Liberation Sans"},
          "encoding": {"x": {"datum": -0.73, "type": "quantitative", "axis": null}, "y": {"datum": 0.1753, "type": "quantitative", "axis": null}, "text": {"field": "label"}}
        },
        {
          "data": {"values": [{"label": "Electrons"}]},
          "mark": {"type": "text", "align": "center", "baseline": "alphabetic", "dx": -13, "dy": -6, "fontSize": 24, "color": "#0000ff", "font": "Liberation Sans"},
          "encoding": {"x": {"datum": -0.18, "type": "quantitative", "axis": null}, "y": {"datum": 0.1753, "type": "quantitative", "axis": null}, "text": {"field": "label"}}
        }
      ]
    }
  ]
}
